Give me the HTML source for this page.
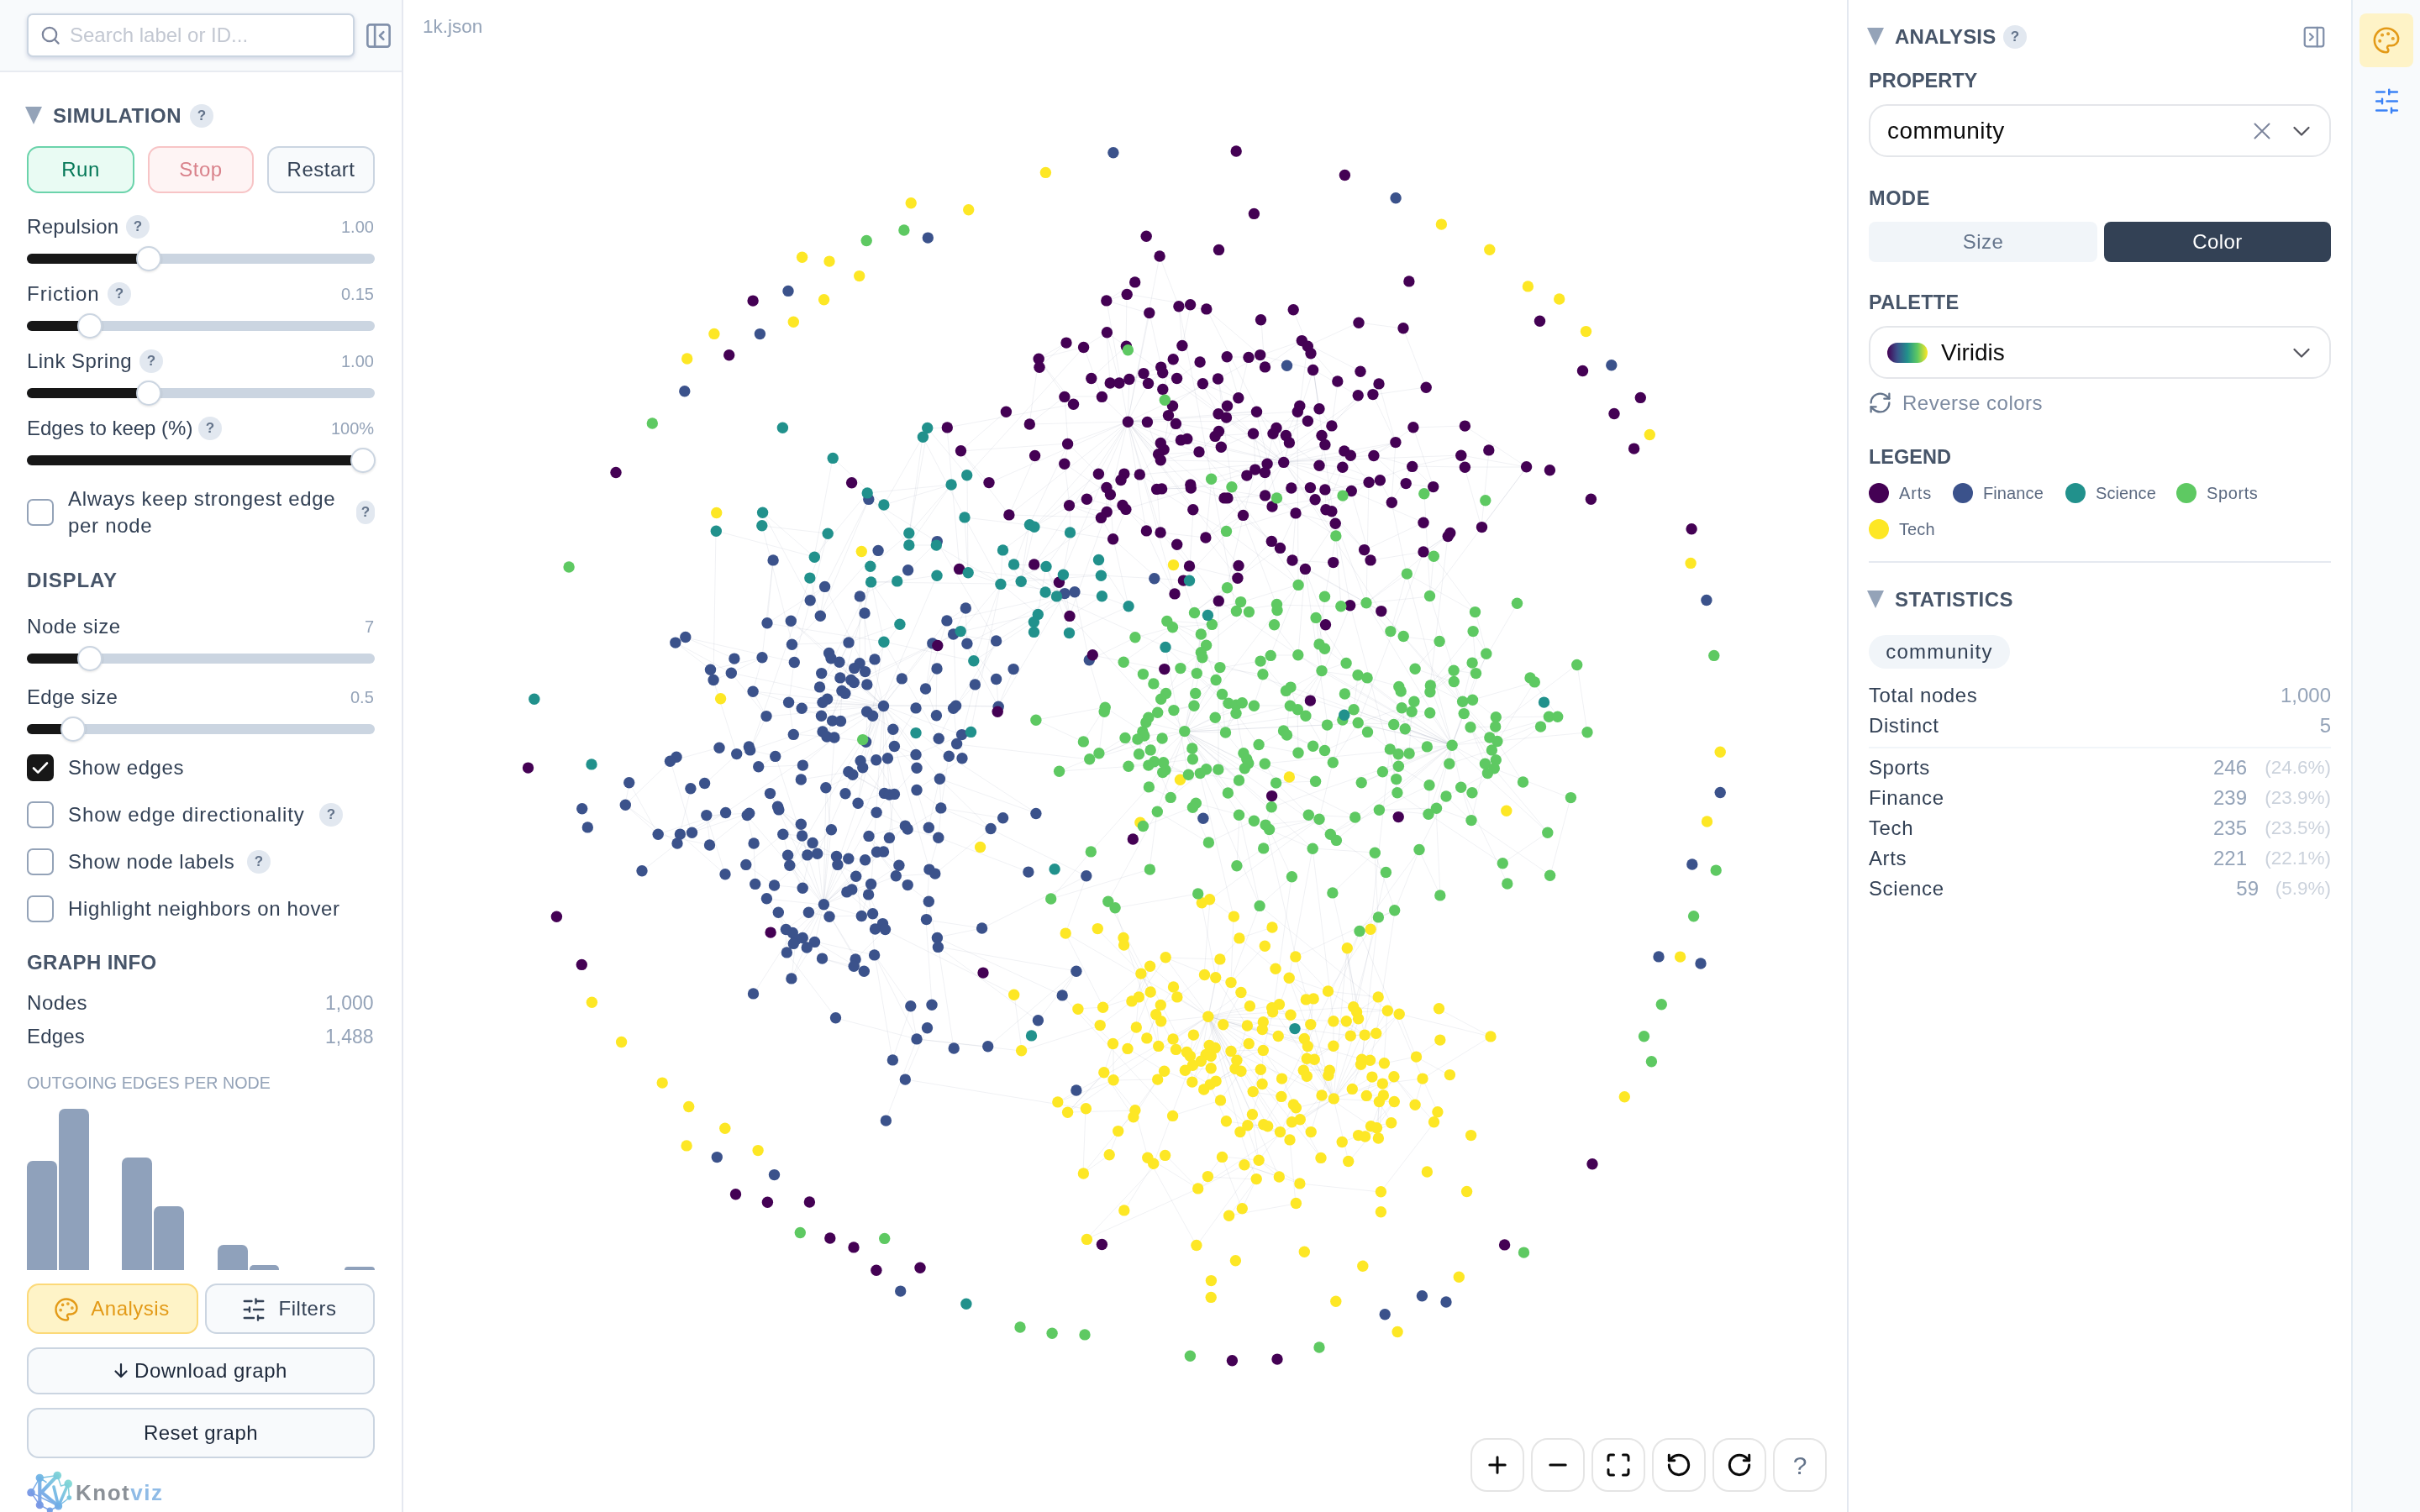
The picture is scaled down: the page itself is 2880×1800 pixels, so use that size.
<!DOCTYPE html>
<html><head><meta charset="utf-8"><title>Knotviz</title><style>
*{box-sizing:border-box;margin:0;padding:0}
html,body{width:2880px;height:1800px;overflow:hidden;background:#fff;font-family:"Liberation Sans",sans-serif}
.abs{position:absolute}
.t{white-space:nowrap}
#left,#right,#strip,.tb,.t,.l,.h,.v,.q,.btn,.lg,.seg{will-change:transform}
#left{position:absolute;left:0;top:0;width:480px;height:1800px;background:#fff;border-right:2px solid #e5e8f0}
.lhead{position:absolute;left:0;top:0;width:478px;height:86px;background:#f8fafc;border-bottom:2px solid #e8ebf1}
.search{position:absolute;left:32px;top:16px;width:390px;height:52px;background:#fff;border:2px solid #cbd5e1;border-radius:7px;box-shadow:0 2px 5px rgba(100,116,160,.28)}
.h{font-weight:700;font-size:24px;line-height:30px;color:#475569;white-space:nowrap}
.l{font-size:24px;line-height:30px;color:#334155;white-space:nowrap;letter-spacing:.15px}
.v{right:33px;font-size:20px;line-height:24px;color:#94a3b8;white-space:nowrap}
#right .rv,#right .rc,#right .rp{font-size:24px;line-height:30px;white-space:nowrap}
.rv{right:106px;color:#94a3b8}
.rc{right:206px;color:#94a3b8}
.rp{right:106px;color:#cbd2dc;font-size:22.5px!important}
.q{position:absolute;width:28px;height:28px;border-radius:14px;background:#e2e8f0;color:#64748b;font-weight:700;font-size:17px;line-height:27px;text-align:center}
.tri{position:absolute;width:0;height:0;border-left:10.5px solid transparent;border-right:10.5px solid transparent;border-top:21px solid #94a3b8}
.btn{position:absolute;border:2px solid;border-radius:14px;font-size:24px;display:flex;align-items:center;justify-content:center;white-space:nowrap;letter-spacing:.5px}
.sl{position:absolute;left:32px;width:414px;height:12px;border-radius:6px;background:#cbd5e1}
.sl i{position:absolute;left:0;top:0;height:12px;border-radius:6px;background:#171717}
.sl b{position:absolute;top:-9px;width:30px;height:30px;border-radius:15px;background:#fff;border:2px solid #cbd5e1;box-shadow:0 1px 3px rgba(0,0,0,.12)}
.cb{position:absolute;left:32px;width:32px;height:32px;border-radius:7px;border:2px solid #94a3b8;background:#fff}
.cb.on{background:#171717;border-color:#171717}
.cb.on svg{position:absolute;left:-2px;top:-2px}
.bar{position:absolute;width:35.8px;background:#8fa1bb;border-radius:7px 7px 0 0}
#right{position:absolute;left:0;top:0;width:2880px;height:0}
#rp{position:absolute;left:2198px;top:0;width:602px;height:1800px;background:#fff;border-left:2px solid #e3e8f0;border-right:2px solid #e3ecf3}
#strip{position:absolute;left:2800px;top:0;width:80px;height:1800px;background:#f8fafc}
.sel{position:absolute;left:2224px;width:550px;height:63px;border:2px solid #e4e6ea;border-radius:22px;background:#fff}
.seg{height:48px;border-radius:8px;font-size:24px;line-height:48px;text-align:center;letter-spacing:.4px}
.dot{position:absolute;width:24px;height:24px;border-radius:12px}
.lg{font-size:20px;line-height:24px;color:#5b6980;white-space:nowrap;letter-spacing:.1px}
.tb{position:absolute;top:1712px;width:64px;height:64px;border:2px solid #e5e5e5;border-radius:20px;background:#fff}
#g{position:absolute;left:480px;top:0}
</style></head><body>
<div class="abs t" style="left:503px;top:18px;font-size:22.500px;line-height:28px;color:#94a3b8">1k.json</div>
<svg id="g" width="1720" height="1800" viewBox="480 0 1720 1800">
<path d="M1384 444L1528 550M1598 857L1586 908M1450 916L1436 916M1387 770L1414 922M1298 1014L1251 1070M1769 778L1752 789M1439 1244L1429 1263M1442 570L1577 529M846 797L849 810M1626 1304L1646 1304M1551 1274L1525 1305M1698 889L1654 892M891 889L877 898M1437 1401L1495 1404M1410 871L1481 915M932 993L955 995M1713 763L1684 796M1309 1221L1216 1251M1314 1277L1271 1324M893 893L923 900M1450 451L1474 474M1661 527L1656 598M1342 502L1365 502M1037 693L1071 743M996 1019L1030 1024M1535 840L1573 799M1709 962L1751 977M985 635L964 688M1728 887L1645 919M1537 581L1559 581M1160 815L1145 875M970 1121L942 1165M1465 1170L1477 1182M1626 718L1728 887M1440 1071L1468 1091M1034 1065L1050 1100M1405 796L1447 810M1191 695L1155 871M1041 1137L1062 1262M1438 1210L1476 1348M1494 559L1457 593M1148 616L1152 682M1536 818L1728 887M1384 444L1401 450M1607 721L1662 928M1753 752L1769 778M1387 1140L1355 1187M1780 905L1767 909M997 1029L1037 1052M1416 1257L1441 1272M1477 1275L1452 1310M1010 765L999 788M1578 607L1624 655M1889 872L1728 887M1767 909L1778 915M1728 887L1677 897M982 698L913 742M1127 739L1102 820M1019 1043L980 1077M1159 787L1188 841M1752 789L1702 824M1450 493L1495 490M967 1003L955 1057M1436 368L1500 423M1311 710L1343 722M1273 602L1317 609M1586 1063L1624 1232M1377 582L1417 577M1337 1116L1338 1125M1354 880L1261 918M993 878L955 911M1037 1052L1025 1090M1542 611L1589 623M983 938L989 988M925 960L955 995M1442 743L1429 777M1661 527L1607 542M1570 975L1440 1071M941 739L1051 840M980 1077L942 1165M1611 1199L1617 1213M1626 718L1644 728M1410 871L1616 861M1485 1340L1524 1348M1592 454L1585 507M1317 396L1340 412M1435 1255L1441 1272M1556 1245L1555 1260M1694 622L1624 655M1102 820L1114 852M1523 1196L1587 1308M1665 1207L1774 1234M1043 967L1077 983M1628 871L1577 893M997 1029L1014 1059M1354 880L1367 911M1391 495L1342 502M870 801L1051 840M1701 935L1641 964M964 688L976 733M1484 1221L1472 1262M877 898L839 933M1231 627L1193 655M1063 868L1043 905M1555 1260L1587 1245M1502 1226L1456 1220M1399 504L1427 538M1585 507L1577 529M1306 1106L1358 1159M1307 666L1343 722M1560 1220L1552 1237M1563 440L1528 550M1877 791L1889 872M1120 962L1194 974M1273 733L1378 848M1207 672L1257 710M1225 625L1215 692M1382 437L1332 456M1616 471L1585 507M1477 1275L1447 1287M1117 997L1224 1038M1116 1127L1281 1156M1528 550L1435 640M989 784L1000 807M1495 490L1342 502M1054 1334L1091 1237M1050 1100L1042 1106M1317 396L1332 456M1495 490L1519 593M1063 868L1064 888M1616 804L1611 845M1310 616L1201 613M947 1118L942 1165M1342 502L1231 627M1008 1062L1050 1100M1244 705L1257 710M1586 908L1570 975M1225 625L1207 672M1460 700L1477 717M1587 1308L1605 1383M1362 876L1339 878M1446 1247L1416 1257M1519 720L1471 727M1052 764L1117 879M1342 502L1484 566M1387 917L1428 921M1177 575L1342 502M1542 611L1538 667M1460 425L1486 425M1577 583L1589 623M1728 887L1590 1000M1660 1084L1640 1092M889 971L980 1077M1528 550L1590 638M1702 816L1741 835M987 777L1017 796M1179 987L1293 1043M893 893L877 898M1452 1310L1485 1340M1410 871L1475 970M979 836L1051 840M1135 843L1139 886M1780 854L1780 865M1071 743L1041 785M1528 550L1598 556M1446 519L1492 516M1544 845L1573 799M1638 1343L1605 1383M1356 565L1383 582M1667 823L1672 868M1452 795L1447 810M1694 657L1616 861M1721 948L1689 1012M1503 803L1530 822M1566 735L1570 767M1728 887L1709 962M1403 365L1442 570M1545 696L1520 726M1315 842L1233 857M1419 904L1385 908M1264 1185L1396 1328M1618 1109L1693 1284M1331 1347L1320 1375M1245 674L1235 731M1317 396L1321 456M1600 537L1598 556M1068 692L1115 685M1486 1242L1472 1262M1640 1187L1615 1205M1537 1044L1499 1078M1585 609L1624 655M1281 1156L1235 1215M1378 1285L1351 1322M1066 1043L980 1077M1342 1248L1386 1275M938 1018L955 1057M1674 683L1655 752M955 1116L960 1128M1559 581L1608 585M1645 1290L1638 1343M1342 502L1556 501M1442 570L1471 727M1058 997L1044 1014M1519 720L1596 722M1728 887L1620 932M1544 490L1585 507M945 788L939 836M1300 780L1386 797M1373 814L1388 825M932 993L888 1029M1600 826L1728 887M1519 510L1528 550M1193 655L1191 695M852 632L849 810M1381 634L1416 674M1566 735L1602 789M1317 396L1290 413M1739 542L1681 555M1505 909L1566 930M1555 1260L1555 1281M978 802L1000 807M941 739L987 777M1514 1200L1587 1308M1664 898L1677 897M1645 1290L1626 1304M1547 1333L1587 1308M1656 598L1674 683M1636 1015L1660 1084M1528 550L1661 527M1752 789L1741 835M1340 412L1384 444M1129 900L1120 962M1102 1095L1169 1105M999 788L1016 812M1235 731L1143 752M1702 710L1730 798M1523 1196L1514 1200M1519 593L1590 638M1564 1261L1587 1245M1506 982L1542 1139M1514 1200L1515 1205M1544 490L1573 518M1342 502L1474 673M1492 516L1505 563M1491 1300L1525 1305M979 871L1006 825M1473 688L1450 715M1681 555L1743 556M1274 634L1265 684M1290 413L1311 472M1231 627L1215 692M1091 940L1120 962M1186 763L1160 815M1082 635L1132 577M1581 1180L1640 1187M1145 875L1090 898M1450 715L1573 799M903 913L955 911M1531 875L1577 893M1756 729L1769 778M1665 1207L1685 1258M1013 810L1051 840M1664 912L1662 928M1633 1282L1609 1296M1051 840L1145 875M1505 909L1728 887M1017 796L1006 825M1080 987L1120 962M1268 1111L1313 1199M991 545L969 663M1503 1250L1502 1290M1854 853L1728 887M1544 845L1545 896M1627 807L1611 845M943 1111L947 1118M1701 935L1700 969M749 932L744 958M1342 502L1381 634M1556 412L1547 483M1770 921L1721 948M1014 1059L1050 1100M1551 1274L1582 1274M1311 710L1273 733M1646 1304L1640 1355M1152 682L1191 695M1149 724L1127 739M1431 783L1452 795M1542 611L1523 652M1271 1324L1351 1322M1726 635L1694 657M1351 1322L1366 1378M1573 799L1728 887M1702 710L1626 718M1135 843L1117 879M1352 1223L1342 1248M1616 804L1665 817M1401 1187L1438 1210M991 545L1052 601M1115 645L1186 763M1446 1247L1470 1272M907 783L846 797M896 823L939 836M1775 893L1780 905M1668 843L1616 861M1271 528L1143 537M798 906L823 991M1481 1387L1547 1409M1317 609L1273 733M1052 764L1027 914M1032 587L969 663M1680 847L1659 862M1613 973L1583 993M1659 862L1728 887M1644 728L1782 883M1325 1242L1314 1277M1528 550L1356 565M1577 710L1570 767M1780 865L1770 921M1562 1010L1636 1015M935 1107L970 1121M1417 577L1519 593M1438 1210L1621 1261M1044 1014L1066 1043M1515 1205L1503 1250M1034 995L1044 1014M1145 875L1139 886M1702 816L1728 887M1395 747L1351 759M1451 513L1528 550M1743 556L1817 556M1106 1035L1113 1040M1477 1182L1438 1210M1151 766L1186 809M1492 840L1535 840M1642 572L1577 583M1757 802L1728 887M1596 722L1626 718M1631 1106L1581 1180M1706 662L1702 710M1321 589L1325 642M1502 1290L1490 1327M1659 1282L1587 1308M1570 975L1590 1000M1314 1277L1351 1322M1438 1210L1271 1324M1416 1257L1419 1288M922 1054L955 1057M1015 922L1058 946M1148 616L1225 625M1377 966L1319 1073M1321 589L1334 572M947 1118L960 1128M1537 581L1506 590M1585 609L1626 718M1051 840L1110 766M1778 915L1752 944M1528 550L1644 728M1045 655L976 733M1514 1104L1475 1117M1495 490L1451 513M1438 1210L1524 1348M1554 852L1410 871M1342 502L1379 541M1441 1257L1429 1263M889 971L897 1004M1577 583L1608 585M1514 1200L1502 1226M1502 1290L1525 1305M1115 685L1031 883M1513 644L1473 688M1139 886L1297 904M816 759L804 765M993 878L980 1077M1245 674L1273 733M1428 921L1393 949M1389 739L1431 783M1052 601L1098 520M1380 305L1342 502M1645 1290L1587 1308M1629 574L1585 609M1030 800L1013 810M1423 825L1410 871M1051 840L1021 956M1439 1244L1419 1268M1269 408L1237 437M1528 550L1577 529M1656 1337L1632 1341M1454 826L1458 872M856 890L798 906M1459 632L1598 590M1377 966L1368 1035M1419 961L1438 1003M1512 780L1545 780M1617 1213L1587 1245M1431 457L1450 493M978 802L979 836M1641 964L1583 993M1695 588L1702 710M1565 595L1514 603M1273 602L1310 616M995 1212L1091 1237M1387 1140L1438 1210M1018 1142L1028 1156M1450 451L1459 497M1377 582L1417 581M1417 581L1457 593M1027 914L1052 944M1556 412L1617 384M985 635L945 788M1640 1092L1621 1261M1739 937L1794 1052M1492 516L1494 559M1528 550L1629 574M1245 674L1191 695M1279 705L1186 763M1387 1140L1447 1164M1051 840L1090 898M1661 527L1635 542M1477 1182L1523 1196M1354 880L1297 904M1369 1181L1313 1199M1429 755L1424 802M1399 504L1466 580M1233 857L1289 883M1752 789L1757 802M1082 649L1132 577M1684 796L1730 812M1351 1322L1331 1347M1615 1205L1651 1203M1633 1282L1645 1290M1127 739L1051 840M1539 1315L1524 1348M1689 1012L1618 1109M1428 431L1384 463M1590 638L1577 710M1010 919L953 928M1628 871L1654 892M1525 1305L1547 1333M1645 919L1662 928M1854 853L1782 883M1091 940L1105 985M985 832L1143 752M1369 1181L1352 1223M1501 381L1505 437M1730 812L1742 850M1436 368L1528 550M1002 822L1000 859M1342 502L1364 632M1019 1043L1025 1090M1051 1014L980 1077M864 967L809 993M967 1003L996 1019M970 1121L978 1141M1051 840L1138 840M1274 634L1325 642M1129 900L1233 968M1438 1210L1429 1263M1056 903L980 1077M926 1086L943 1111M1641 1312L1640 1355M1369 1181L1347 1192M1064 888L1091 914M1310 616L1231 672M1391 495L1385 535M943 1111L897 1183M1438 1210L1498 1381M1534 1164L1563 1189M1447 810L1421 840M1191 695L1311 710M1577 529L1570 554M1410 871L1499 1078M1603 1129L1587 1308M1505 1126L1465 1170M1386 1275L1419 1288M1410 871L1362 876M1723 638L1694 657M943 767L1010 765M1378 848L1410 871M1367 911L1261 918M1446 1247L1441 1272M1607 1233L1638 1230M1730 812L1741 835M1581 1180L1611 1199M1481 1387L1522 1401M1341 350L1340 412M1278 481L1127 509M1145 875L1145 903M1598 556L1578 607M1447 1164L1484 1221M1511 988L1537 1044M1438 1210L1556 1245M897 1004L899 1052M1685 1258L1725 1280M973 1016L996 1019M1452 795L1410 871M1064 888L1090 898M1475 1117L1452 1142M1044 1014L1019 1043M1186 763L1138 840M1135 755L1186 763M943 1111L970 1121M1283 1201L1313 1199M1034 594L982 698M1056 903L1064 945M1387 1375L1293 1475M1051 840L1188 841M841 971L845 1006M1535 840L1410 871M1607 721L1554 852M1389 739L1442 743M1477 1275L1500 1273M1431 783L1424 802M1538 667L1626 718M1528 550L1340 606M1343 722L1273 754M1082 635L1104 510M1553 677L1644 728M1116 1127L1235 1215M1342 502L1260 693M1143 537L1201 613M989 784L999 788M1504 1010L1472 1031M1475 929L1461 944M1670 758L1713 763M1341 350L1317 358M982 698L1051 840M1091 1237L1216 1251M1573 799L1627 807M984 877L993 878M1414 922L1377 966M1395 747L1337 788M975 818L1006 825M1387 770L1536 818M1023 790L1013 810M1232 542L1201 613M1381 1196L1365 1236M961 1018L922 1054M1539 369L1560 421M1051 840L1106 1035M1542 1433L1463 1447M1385 908L1367 937M1500 423L1450 451M1450 451L1466 580M1271 528L1267 552M1471 849L1480 897M1317 609L1340 606M1559 581L1506 590M1381 548L1427 538M1366 1378L1424 1483M935 1107L936 1134M889 971L845 1006M1697 461L1634 470M1767 909L1751 977M1115 796L1102 820M1728 887L1700 969M1365 502L1379 541M1081 679L1115 645M822 939L809 993M927 964L967 1003M1340 606L1401 648M1034 1065L1041 1137M1523 652L1473 688M1460 700L1421 729M1410 871L1461 944M1269 408L1236 427M1410 871L1583 993M1420 1232L1400 1249M1051 840L940 1030M1021 956L980 1077M1378 1285L1349 1330M1052 944L1064 945M1376 1208L1379 1245M1403 365L1407 412M1410 871L1492 977M1018 1142L1016 1150M1066 1043L1113 1040M1405 524L1381 527M1021 956L1043 967M1436 768L1429 777M1728 887L1701 935M1438 1210L1572 1378M1376 1208L1382 1216M1311 472L1332 456M1043 905L1006 945M1225 625L1274 634M1397 1175L1401 1187M1480 897L1486 909M1257 710L1230 740M1477 1182L1487 1198M1193 655L1215 692M1064 945L1058 997M1358 1159L1369 1181M1477 717L1421 729M1728 887L1613 973M1528 550L1585 609M1037 693L1191 695M1500 423L1563 440M1290 413L1151 566M1293 1043L1268 1111M1307 564L1231 627M1780 854L1854 853M1477 1182L1456 1220M1465 1251L1587 1308M1728 887L1767 909M1037 693L984 877M1636 1015L1640 1092M864 967L783 993M967 1003L973 1016M1000 807L1006 825M920 667L913 742M1498 1381L1522 1401M1030 1024L980 1077M926 1086L935 1107M1052 764L1159 787M1565 595L1542 611M1753 752L1702 816M1235 731L1230 752M912 853L893 893M1721 948L1751 977M1368 373L1382 437M1319 1073L1419 1268M962 1086L935 1107M1534 1164L1554 1190M1519 932L1566 930M1307 564L1342 502M989 988L980 1077M1279 705L1127 739M1405 796L1388 825M1382 437L1528 550M1293 1043L1169 1105M1607 1233L1624 1232M1517 744L1545 780M1714 1238L1685 1258M939 836L1051 840M1519 932L1557 970M1554 852L1580 863M1730 798L1702 816M1553 677L1580 863M1438 1210L1446 1247M1587 1308L1426 1415M1600 826L1611 845M1664 912L1620 932M1641 964L1700 969M1563 1189L1552 1237M1032 815L1006 825M1525 1305L1504 1339M852 632L969 663M1381 527L1381 548M943 1111L944 1123M1683 835L1659 862M989 784L1051 840M964 688L893 893M1360 803L1388 825M1549 406L1619 442M1387 1140L1452 1142M980 1077L936 1134M1673 576L1706 580M1435 1255L1441 1257M749 932L783 993M1486 425L1505 437M1023 710L1051 840M1438 1210L1552 1237M1245 674L1273 754M1420 607L1416 674M1279 705L1296 786M907 626L985 635M1017 796L1013 810M1051 840L912 853M907 783L870 801M1438 1210L1632 1341M1382 832L1364 860M982 698L964 715M1481 1387L1426 1415M1680 847L1672 868M1659 862L1698 889M1440 1291L1459 1335M1191 695L1159 787M920 667L907 783M1080 1054L1105 1073M1325 1242L1325 1286M1682 509L1706 580M1833 865L1780 905M1149 724L1135 755M1058 946L1043 967M823 991L806 1004M1707 1336L1643 1419M1034 995L1051 1014M1106 1035L1102 1095M1680 847L1677 897M1542 1139L1587 1308M1659 862L1664 912M1450 916L1414 922M1401 1187L1381 1196M1410 1274L1441 1272M1325 642L1343 722M980 1077L1018 1142M1485 1340L1504 1339M1537 1044L1515 1205M1382 832L1378 848M1186 809L1188 841M1419 891L1385 908M1513 961L1506 982M1290 413L1236 427M1315 842L1360 871M940 1030L955 1057M1314 1277L1349 1330M1654 892L1631 1106M1549 406L1500 423M1396 428L1367 456M1064 888L1090 843M975 818L979 836M1417 363L1407 412M1438 1210L1602 1216M1082 635L1036 674M1466 580L1519 720M1773 878L1780 905M1008 1062L980 1077M1498 1381L1424 1483M1381 548L1528 550M908 610L964 715M1410 871L1562 1010M1538 667L1587 670M1515 516L1508 552M1556 412L1592 454M1342 502L1381 548M1515 1205L1536 1208M1466 580L1641 457M1317 580L1340 606M1542 1139L1581 1180M744 958L806 1004M1778 915L1842 991M1530 822L1535 840M1352 1223L1325 1242M1037 693L1068 692M1053 1107L1207 1184M1843 853L1854 853M1342 502L1377 582M1668 843L1702 849M1470 1272L1447 1287M1471 849L1498 887M1769 778L1728 887M1420 1232L1416 1257M1624 1232L1620 1267M1582 1274L1573 1304M1453 532L1528 550M912 1070L980 1077M1197 490L1143 537M1528 550L1508 552M1495 1404L1478 1439M804 765L870 801M1438 1210L1490 1327M1728 887L1739 937M1385 535L1356 565M1649 1038L1607 1233M1077 1285L1292 1320M1523 652L1538 667M1051 840L1129 900M1381 1196L1376 1208M1317 580L1317 609M1477 717L1471 727M1317 358L1368 373M1148 616L1191 695M1481 915L1505 909M1494 559L1480 613M1430 1075L1447 1164M1750 866L1780 865M954 843L1051 840M1064 945L1091 914M1460 700L1429 755M1410 871L1297 904M1681 555L1656 598M1641 964L1709 962M1674 683L1626 718M1512 780L1492 840M1143 537L1177 575M1051 1014L1030 1024M1037 1052L1008 1062M1542 1319L1560 1348M1528 550L1635 542M864 967L823 991M970 1121L1041 1137M1638 1343L1640 1355M1379 541L1427 538M1750 866L1780 905M1544 490L1515 516M1424 802L1388 825M892 968L823 991M1138 840L1188 841M1869 950L1845 1042M1423 825L1421 840M1051 840L1027 914M1381 634L1435 640M1474 474L1451 513M1281 1156L1264 1185M1562 1010L1534 1164M1143 752L1159 787M1438 1210L1521 1234M1681 555L1629 574M1369 1150L1347 1192M1317 358L1342 502M1555 1281L1573 1304M1547 1409L1643 1419M1051 840L983 938M1617 384L1670 391M1564 1261L1587 1308M1118 927L1120 962M1098 520L1148 616M1283 1201L1325 1242M1481 915L1436 916M1665 817L1683 835M1377 966L1438 1003M1587 1308L1659 1312M1633 1282L1626 1304M983 938L980 1077M1659 1312L1632 1341M1753 752L1757 802M1268 1111L1438 1210M1583 993L1649 1038M1351 759L1296 786M1118 927L1179 987M970 1121L1028 1156M1410 871L1458 872M1534 527L1570 554M1651 1203L1587 1308M1487 1198L1438 1210M1538 667L1553 677M1387 770L1471 849M1503 1250L1472 1262M1560 421L1570 487M1523 1196L1438 1210M1351 336L1317 358M1082 635L1098 520M1635 542L1681 555M1114 649L1191 695M1544 490L1545 696M1395 483L1413 522M1474 673L1450 715M1435 640L1473 688M1534 1164L1523 1196M1511 988L1562 1010M1438 1210L1396 1237M1325 1286L1259 1312M1364 860L1369 893M1702 824L1683 835M1563 1189L1560 1220M1670 391L1697 461M1560 1348L1573 1304M1017 796L1032 815M1051 840L1032 847M1577 772L1728 887M1484 904L1475 929M993 878L1031 883M1627 807L1600 826M1271 528L1307 564M1267 472L1271 528M1640 1092L1611 1199M1267 552L1321 589M982 698L976 733M1537 1336L1587 1308M1382 1216L1400 1249M1702 849L1728 887M1457 593L1514 603M978 1141L1028 1156M1563 440L1590 638M1475 1117L1518 1153M1310 616L1325 642M1367 937L1393 949M1071 743L1010 765M1555 1260L1581 1280M980 1077L1028 1156M870 801L849 810M1379 1245L1412 1252M1347 1192L1309 1221M1492 977L1438 1003M1659 1282L1641 1312M1052 944L1021 956M1120 962L1179 987M1447 1164L1438 1210M1029 730L999 788M1382 437L1395 483M1753 833L1780 854M804 765L846 797M1396 428L1384 463M961 1018L973 1016M1351 1322L1289 1397M1631 1262L1587 1308M979 836L991 858M1780 854L1782 883M1817 556L1763 628M1842 991L1788 1028M1342 502L1317 609M1077 983L1034 995M1315 842L1314 847M1530 822L1728 887M1377 582L1381 634M1506 982L1511 988M1739 542L1817 556M1244 705L1387 770M1051 840L1037 1052M1360 871L1355 898M1403 365L1436 368M1441 1272L1433 1297M1452 1310L1396 1328M1600 537L1629 574M1070 1030L1037 1052M977 852L1000 859M1383 879L1374 907M1528 550L1607 542M1498 1381L1547 1409M1646 1304L1632 1341M1659 1282L1684 1315M1410 871L1367 911M1616 861L1728 887M932 993L938 1018M1504 1010L1570 975M1373 814L1410 871M1102 1095L1109 1196M1525 1305L1618 1109M1010 1022L997 1029M1027 914L1021 956M1215 692L1244 705M1728 887L1663 944M1433 1161L1465 1170M1281 1156L1176 1246M1369 1150L1355 1187M1428 921L1475 929M1342 1248L1271 1324M1339 878L1308 897M1486 1242L1465 1251M1358 1159L1355 1187M1337 1116L1369 1181M1577 583L1578 607M1624 1232L1638 1230M1641 457L1661 527M954 843L977 852M1419 961L1360 984M816 759L945 788M944 874L993 878M1730 798L1702 824M1664 912L1701 935M923 900L903 913M888 1029L922 1054M1438 1210L1259 1312M1051 840L1118 927M1320 1375L1289 1397M917 945L980 1077M1310 685L1416 691M1015 922L983 938M1194 974L1113 1040M1051 840L864 967M1426 1415L1293 1475M1118 927L1105 985M1528 550L1739 542M1475 970L1499 1078M1580 863L1577 893M1556 501L1515 516M1654 892L1663 944M1665 1207L1587 1308M1041 1137L1084 1198M1037 693L975 818M1368 373L1342 502M1598 556L1642 572M1267 707L1188 841M849 810L877 898M1682 509L1635 542M1225 505L1342 502M1473 688L1421 729M1459 1335L1509 1341M1539 1315L1537 1336M1438 1210L1526 1284M1468 1091L1465 1170M1396 428L1528 550M1634 470L1661 527M913 742L1052 764M1032 847L1063 868M1723 638L1702 816M1499 1078L1651 1203M1500 1273L1491 1300M1118 927L1233 968M1077 1285L1103 1224M1651 1203L1647 1266M1460 425L1474 474M1431 457L1395 483M999 788L975 818M1536 818L1531 875M1544 490L1342 502M978 1141L1016 1150M1534 1164L1587 1308M1084 1198L1091 1237M1709 962L1714 1066M973 1016L980 1077M1742 850L1782 883M1447 810L1423 825M1236 427L1267 472M1135 755L1138 840M1782 883L1812 931M1421 840L1378 848M1367 911L1384 920M1424 802L1462 837M1459 632L1545 696M1043 967L980 1077M1553 677L1578 744M989 784L1017 796M1603 1129L1611 1199M1549 406L1505 437M1665 1207L1638 1230M841 971L863 1041M1685 1258L1647 1266M1617 1352L1625 1353M1689 1012L1714 1066M1024 906L1043 905M987 1091L1025 1090M1503 1250L1526 1284M1438 1210L1607 1233M1151 566L1152 682M1051 840L991 858M896 823L912 853M1553 677L1589 623M1064 888L1056 903M1115 796L1114 852M1342 502L1420 607M1739 937L1751 977M1495 490L1519 510M1052 944L1077 983M912 1070L935 1107M1534 1164L1581 1180M1553 677L1545 780M980 1077L943 1111M1503 1217L1484 1221M1521 1234L1552 1237M955 995L940 1030M1826 812L1782 883M1674 683L1728 887M1267 707L1151 766M1557 970L1590 1000M1077 983L1051 1014M1726 635L1723 638M1877 791L1780 865M1207 1184L1216 1251M1440 1071L1433 1161M1475 970L1492 977M1077 983L980 1077M1293 594L1273 602M1374 907L1414 922M1528 870L1498 887M1352 1223L1379 1245M1587 1216L1624 1232M1480 613L1408 691M1826 812L1753 833M1470 1272L1440 1291M1620 1267L1647 1266M1582 1274L1587 1308M1115 1116L1264 1185M1774 1234L1693 1284M1528 550L1494 559M1319 1073L1327 1081M1693 1284L1684 1315M1495 1404L1463 1447M1366 1378L1426 1415M1617 1352L1597 1360M1821 807L1854 853M980 1077L962 1086M1127 509L1142 677M1342 502L1201 613M1542 1139L1660 1084M1367 456L1342 502M1142 677L1260 693M1043 905L1064 945M1554 852L1586 908M1616 861L1586 908M1340 412L1299 450M1364 860L1410 871M1339 878L1355 898M1480 613L1435 640M1385 908L1367 911M1477 717L1486 728M1401 648L1450 715M1484 1221L1521 1234M1051 840L973 1016M1547 1333L1572 1378M816 759L874 784M1617 1213L1587 1216M985 832L977 852M1325 642L1340 606M1041 785L1013 810M1373 1385L1387 1375M1709 962L1700 969M1454 1377L1426 1415M1051 840L1066 1043M1750 866L1767 909M1115 1116L1169 1105M1296 786L1314 847M1659 1282L1707 1336M1410 871L1387 917M932 993L973 1016M1084 1198L1062 1262M1273 602L1274 634M1080 987L1117 997M938 1018L980 1077M1499 1078L1429 1263M1405 524L1528 550M923 900L980 1077M1446 854L1458 872M1191 695L1235 731M1408 691L1447 810M1433 1161L1401 1187M1378 1285L1325 1286M1513 961L1728 887M1340 606L1364 632M1570 487L1585 507M1389 739L1436 768M1143 752L1016 812M1626 718L1655 752M1230 740L1159 787M1019 1043L1008 1062M1471 839L1458 872M1410 871L1486 909M1659 1312L1638 1343M892 968L889 971M1494 559L1484 566M1104 510L1151 566M996 1019L980 1077M1031 883L1043 905M1454 1377L1478 1439M1342 502L1513 644M1611 845L1728 887M1367 911L1387 917M1053 1107L1018 1142M1564 1261L1582 1274M1498 887L1545 896M1271 528L1342 502M1160 815L1138 840M1438 1210L1522 1401M1341 350L1417 363M1342 502L1398 707M1337 788L1388 825M1384 444L1367 456M1338 564L1231 627M1570 767L1573 799M1536 818L1544 845M1410 1274L1440 1291M1110 766L1102 820M1526 1284L1542 1319M1621 1261L1647 1266M896 823L1051 840M1636 1015L1586 1063M1454 1377L1498 1381M1344 451L1384 463M1556 1245L1555 1281M1023 710L1023 790M1663 944L1700 969M1367 937L1298 1014M1632 1341L1617 1352M1073 808L1032 847M1654 892L1664 912M1438 1210L1416 1257M1553 677L1512 780M1310 685L1215 692M999 788L1002 822M1544 845L1554 852M1051 840L893 893M1091 1237L1176 1246M1321 589L1336 601M1344 451L1342 502M1539 1315L1542 1319M1524 1348L1498 1381M1385 908L1414 922M1442 570L1435 640M1602 789L1573 799M1602 1216L1624 1232M1410 871L1580 863M1115 796L1090 843M1423 956L1475 970M1603 1129L1617 1213M1206 797L1188 841M1120 962L1117 997M1702 849L1659 862M908 610L969 663M1641 1312L1656 1337M1127 509L1104 510M1374 907L1393 949M1362 876L1374 907M1689 1012L1660 1084M1032 847L1031 883M1547 483L1570 487M944 1123L970 1121M1486 909L1461 944M1778 915L1869 950M1542 1319L1587 1308M1105 1073L1116 1127M1387 1375L1426 1415M987 777L1051 840M1338 564L1356 565M1751 977L1845 1042M1552 1237L1587 1308M1149 724L1151 766M1640 1187L1587 1308M798 906L744 958M1429 755L1410 871M1377 582L1459 632M1471 727L1429 755M1528 550L1694 622M1367 854L1354 880M1486 728L1436 768M1410 871L1513 961M1051 840L1006 825M976 733L943 767M1438 1210L1611 1199M1358 1159L1313 1199M1342 502L1417 581M1441 1257L1419 1288M1267 472L1311 472M1638 1230L1631 1262M1706 662L1756 729M1032 587L1082 649M1407 412L1384 444M1023 790L1016 812M1452 1142L1438 1210M1029 730L1030 800M1563 440L1616 471M1383 582L1417 581M1450 451L1342 502M980 1077L1025 1090M1559 581L1578 607M907 626L943 767M955 995L961 1018M1450 715L1450 916M1446 854L1410 871M806 1004L764 1037M744 958L783 993M1382 1216L1438 1210M1410 871L1475 929M1465 1251L1503 1250M1389 739L1429 755M1374 907L1343 912M1265 684L1273 733M1480 613L1513 644M1410 871L1613 973M1380 305L1403 365M1743 507L1817 556M1271 528L1225 625M1616 861L1659 862M1478 837L1458 872M1369 1150L1438 1210M1674 683L1756 729M1712 1201L1774 1234M1590 638L1596 722M1600 537L1577 583M1052 601L1132 577M1621 1261L1609 1296M1039 1088L1053 1107M1145 903L1091 940M1486 425L1474 474M1587 1216L1587 1245M1772 536L1763 628M1458 872L1484 904M962 1086L987 1091M1505 563L1484 566M1728 887L1725 909M1460 483L1459 497M927 964L953 981M1556 501L1530 518M1739 542L1763 628M1598 857L1728 887M1519 593L1542 611M1459 497L1492 516M1506 982L1570 975M1235 731L1230 740M1438 1210L1509 1341M1342 502L1413 522M1629 574L1626 718M1566 735L1577 772M1384 444L1344 451M1730 798L1757 802M1267 552L1273 602M1681 555L1706 580M1361 445L1367 456M1562 1010L1587 1216M1621 1261L1620 1267M1041 785L1023 790M1364 632L1398 707M1051 840L1052 944M1355 1187L1352 1223M1556 1245L1551 1274M1611 845L1580 863M991 858L984 877M1327 1081L1379 1245M1292 1320L1289 1397M1431 457L1474 474M1010 919L1052 944M1664 898L1664 912M1399 504L1413 522M1559 581L1577 583M1742 850L1728 887M1438 1210L1535 1357M1034 594L976 733M1236 427L1278 481M1492 516L1453 532M989 988L961 1018M1274 634L1245 674M1421 840L1397 846M1395 747L1442 743M1438 1210L1470 1272M1293 594L1340 606M1631 667L1694 657M1354 880L1369 893M1523 1196L1503 1217M1530 822L1573 799M1520 726L1517 744M1528 550L1641 457M1498 887L1484 904M1368 1035L1251 1070M1618 1109L1631 1106M1505 909L1519 932M1410 871L1419 891M1115 1116L1135 1248M1081 679L1023 710M1017 796L1002 822M1037 693L1052 764M1775 893L1725 909M1547 1333L1573 1304M1620 1267L1587 1308M1589 623L1607 721M1039 852L1031 883M939 836L944 874M1314 847L1308 897M1782 883L1770 921M1656 1337L1625 1353M1806 718L1757 802M917 945L925 960M1632 1341L1640 1355M1547 483L1530 518M1535 1357L1542 1433M980 1077L955 1116M1817 556L1702 710M1438 1210L1581 1280M1534 527L1528 550M1399 504L1379 541M1041 1137L1091 1237M1051 840L923 900M1342 502L1231 672M1438 1210L1373 1385M1191 695L1143 752M1436 768L1410 871M1236 427L1225 505M1207 672L1267 707M1682 509L1743 507M1082 649L1114 649M1465 1251L1441 1272M809 993L863 1041M1528 870L1563 888M1492 840L1446 854M1564 1261L1618 1109M1642 572L1656 598M1611 1199L1651 1203M1635 542L1673 576M1384 920L1367 937M1429 1263L1419 1288M1315 842L1289 883M841 971L892 968M1032 587L1132 577M1475 970L1472 1031M1608 585L1631 667M1545 780L1728 887M1693 1284L1711 1324M1036 674L1029 730M1723 638L1626 718M980 1077L987 1091M1616 804L1668 843M1373 1385L1338 1441M1399 504L1451 513M907 783L896 823M1044 1014L1070 1030M870 801L912 853M1327 1081L1426 1064M1413 522L1453 532M1520 726L1410 871M1506 590L1461 593M927 964L955 995M1700 969L1788 1028M1660 1084L1638 1230M1429 777L1405 796M1207 672L1245 674M936 1134L995 1212M1554 1190L1563 1189M1617 1213L1587 1308M1528 550L1506 590M1416 674L1473 688M1325 642L1398 707M980 1077L970 1121M1260 693L1273 733M1500 787L1530 822M1728 887L1842 991M1396 1237L1412 1252M1504 1339L1535 1357M1509 1341L1524 1348M1440 1291L1433 1297M1478 837L1410 871M1376 1208L1365 1236M1311 472L1342 502M1428 921L1468 1091M1400 1249L1419 1268M1397 1175L1376 1208M1693 1284L1645 1290M1410 871L1377 966M1034 594L1115 645M805 901L798 906M1476 1348L1495 1404M1490 1327L1498 1381M1480 613L1460 700M1117 997L1106 1035M1466 580L1545 696M1043 905L1090 898M1267 472L1225 505M1044 1014L1080 1054M1077 983L1080 987M1750 866L1778 915M1644 728L1773 878M1265 684L1310 685M783 993L845 1006M1563 440L1570 487M1452 795L1503 803M1511 988L1570 975M1500 787L1452 795M1505 563L1506 590M1557 970L1613 973M1446 519L1427 538M1545 696L1477 717M1429 777L1424 802" stroke="#75819d" stroke-opacity=".11" stroke-width="1" fill="none"/>
<g fill="#fde725"><circle cx="1084.2" cy="241.7" r="6.7"/><circle cx="954.6" cy="306.2" r="6.7"/><circle cx="987.0" cy="311.1" r="6.7"/><circle cx="1022.7" cy="328.6" r="6.7"/><circle cx="980.6" cy="356.7" r="6.7"/><circle cx="944.3" cy="383.3" r="6.7"/><circle cx="849.9" cy="397.4" r="6.7"/><circle cx="817.7" cy="427.0" r="6.7"/><circle cx="1244.4" cy="205.4" r="6.7"/><circle cx="1152.7" cy="249.8" r="6.7"/><circle cx="1715.4" cy="267.1" r="6.7"/><circle cx="1772.8" cy="297.2" r="6.7"/><circle cx="1818.4" cy="340.9" r="6.7"/><circle cx="1855.7" cy="356.0" r="6.7"/><circle cx="1887.5" cy="394.6" r="6.7"/><circle cx="852.7" cy="610.5" r="6.7"/><circle cx="1025.3" cy="656.5" r="6.7"/><circle cx="1396.5" cy="672.6" r="6.7"/><circle cx="1963.3" cy="517.5" r="6.7"/><circle cx="2012.1" cy="670.4" r="6.7"/><circle cx="857.6" cy="831.7" r="6.7"/><circle cx="1404.5" cy="928.2" r="6.7"/><circle cx="1534.4" cy="925.0" r="6.7"/><circle cx="1356.9" cy="979.2" r="6.7"/><circle cx="1166.6" cy="1008.5" r="6.7"/><circle cx="2047.2" cy="895.2" r="6.7"/><circle cx="1792.8" cy="965.3" r="6.7"/><circle cx="2031.5" cy="978.0" r="6.7"/><circle cx="704.4" cy="1193.3" r="6.7"/><circle cx="739.6" cy="1240.5" r="6.7"/><circle cx="788.2" cy="1289.1" r="6.7"/><circle cx="819.7" cy="1317.5" r="6.7"/><circle cx="862.8" cy="1343.3" r="6.7"/><circle cx="1430.3" cy="1074.8" r="6.7"/><circle cx="1439.6" cy="1070.8" r="6.7"/><circle cx="1468.4" cy="1091.1" r="6.7"/><circle cx="1514.0" cy="1104.0" r="6.7"/><circle cx="1268.2" cy="1111.1" r="6.7"/><circle cx="1306.3" cy="1105.6" r="6.7"/><circle cx="1337.0" cy="1116.5" r="6.7"/><circle cx="1337.6" cy="1125.0" r="6.7"/><circle cx="1474.9" cy="1116.9" r="6.7"/><circle cx="1505.3" cy="1126.2" r="6.7"/><circle cx="1387.2" cy="1139.7" r="6.7"/><circle cx="1451.9" cy="1141.9" r="6.7"/><circle cx="1541.8" cy="1138.9" r="6.7"/><circle cx="1368.6" cy="1150.2" r="6.7"/><circle cx="1357.9" cy="1159.1" r="6.7"/><circle cx="1518.0" cy="1153.2" r="6.7"/><circle cx="1433.5" cy="1160.5" r="6.7"/><circle cx="1446.7" cy="1163.7" r="6.7"/><circle cx="1534.2" cy="1164.3" r="6.7"/><circle cx="1465.0" cy="1169.6" r="6.7"/><circle cx="1396.5" cy="1175.0" r="6.7"/><circle cx="1400.9" cy="1186.9" r="6.7"/><circle cx="1369.2" cy="1181.0" r="6.7"/><circle cx="1476.9" cy="1181.5" r="6.7"/><circle cx="1206.7" cy="1184.3" r="6.7"/><circle cx="1355.3" cy="1186.9" r="6.7"/><circle cx="1346.9" cy="1191.9" r="6.7"/><circle cx="1554.3" cy="1189.9" r="6.7"/><circle cx="1563.2" cy="1188.9" r="6.7"/><circle cx="1381.3" cy="1196.4" r="6.7"/><circle cx="1487.4" cy="1197.8" r="6.7"/><circle cx="1522.5" cy="1195.8" r="6.7"/><circle cx="1513.6" cy="1199.8" r="6.7"/><circle cx="1514.6" cy="1204.8" r="6.7"/><circle cx="1282.9" cy="1201.2" r="6.7"/><circle cx="1312.6" cy="1199.2" r="6.7"/><circle cx="1375.7" cy="1207.7" r="6.7"/><circle cx="1381.7" cy="1215.7" r="6.7"/><circle cx="1437.8" cy="1210.3" r="6.7"/><circle cx="1536.0" cy="1208.3" r="6.7"/><circle cx="1503.3" cy="1216.7" r="6.7"/><circle cx="1502.3" cy="1225.6" r="6.7"/><circle cx="1455.7" cy="1219.8" r="6.7"/><circle cx="1484.4" cy="1221.0" r="6.7"/><circle cx="1559.8" cy="1219.6" r="6.7"/><circle cx="1309.2" cy="1220.6" r="6.7"/><circle cx="1352.3" cy="1223.0" r="6.7"/><circle cx="1420.4" cy="1232.1" r="6.7"/><circle cx="1521.2" cy="1233.5" r="6.7"/><circle cx="1552.3" cy="1236.5" r="6.7"/><circle cx="1364.8" cy="1235.9" r="6.7"/><circle cx="1396.0" cy="1236.9" r="6.7"/><circle cx="1324.5" cy="1242.5" r="6.7"/><circle cx="1378.7" cy="1245.4" r="6.7"/><circle cx="1486.2" cy="1242.5" r="6.7"/><circle cx="1439.2" cy="1244.4" r="6.7"/><circle cx="1446.2" cy="1247.4" r="6.7"/><circle cx="1556.3" cy="1245.4" r="6.7"/><circle cx="1342.0" cy="1248.4" r="6.7"/><circle cx="1215.6" cy="1250.8" r="6.7"/><circle cx="1399.5" cy="1249.4" r="6.7"/><circle cx="1412.4" cy="1252.4" r="6.7"/><circle cx="1416.4" cy="1257.3" r="6.7"/><circle cx="1465.0" cy="1251.4" r="6.7"/><circle cx="1503.3" cy="1250.4" r="6.7"/><circle cx="1435.2" cy="1255.4" r="6.7"/><circle cx="1441.2" cy="1257.3" r="6.7"/><circle cx="1429.3" cy="1263.3" r="6.7"/><circle cx="1471.9" cy="1262.3" r="6.7"/><circle cx="1555.3" cy="1260.3" r="6.7"/><circle cx="1564.2" cy="1261.3" r="6.7"/><circle cx="1419.4" cy="1268.3" r="6.7"/><circle cx="1410.4" cy="1274.2" r="6.7"/><circle cx="1441.2" cy="1271.8" r="6.7"/><circle cx="1470.0" cy="1272.2" r="6.7"/><circle cx="1476.9" cy="1275.2" r="6.7"/><circle cx="1500.3" cy="1273.2" r="6.7"/><circle cx="1551.3" cy="1274.2" r="6.7"/><circle cx="1555.3" cy="1281.2" r="6.7"/><circle cx="1385.6" cy="1275.2" r="6.7"/><circle cx="1377.7" cy="1285.1" r="6.7"/><circle cx="1313.8" cy="1276.8" r="6.7"/><circle cx="1325.1" cy="1285.7" r="6.7"/><circle cx="1525.5" cy="1284.1" r="6.7"/><circle cx="1418.8" cy="1288.1" r="6.7"/><circle cx="1447.1" cy="1287.1" r="6.7"/><circle cx="1440.2" cy="1291.1" r="6.7"/><circle cx="1432.7" cy="1297.0" r="6.7"/><circle cx="1502.1" cy="1290.5" r="6.7"/><circle cx="1491.2" cy="1299.6" r="6.7"/><circle cx="1524.9" cy="1305.4" r="6.7"/><circle cx="1452.5" cy="1309.9" r="6.7"/><circle cx="1258.8" cy="1311.9" r="6.7"/><circle cx="1539.4" cy="1314.9" r="6.7"/><circle cx="1542.4" cy="1318.8" r="6.7"/><circle cx="1292.4" cy="1319.8" r="6.7"/><circle cx="1270.6" cy="1324.2" r="6.7"/><circle cx="1350.9" cy="1321.8" r="6.7"/><circle cx="1348.9" cy="1329.8" r="6.7"/><circle cx="1395.6" cy="1328.4" r="6.7"/><circle cx="1490.4" cy="1326.8" r="6.7"/><circle cx="1459.4" cy="1334.7" r="6.7"/><circle cx="1537.4" cy="1335.7" r="6.7"/><circle cx="1547.3" cy="1332.7" r="6.7"/><circle cx="1484.8" cy="1339.7" r="6.7"/><circle cx="1503.7" cy="1338.7" r="6.7"/><circle cx="1508.7" cy="1340.7" r="6.7"/><circle cx="1330.7" cy="1346.6" r="6.7"/><circle cx="1475.9" cy="1347.6" r="6.7"/><circle cx="1523.5" cy="1347.6" r="6.7"/><circle cx="1560.2" cy="1347.6" r="6.7"/><circle cx="1631.1" cy="1106.3" r="6.7"/><circle cx="1603.3" cy="1128.8" r="6.7"/><circle cx="1999.6" cy="1139.1" r="6.7"/><circle cx="1580.5" cy="1180.0" r="6.7"/><circle cx="1640.2" cy="1186.9" r="6.7"/><circle cx="1610.7" cy="1198.8" r="6.7"/><circle cx="1614.6" cy="1204.8" r="6.7"/><circle cx="1616.6" cy="1212.7" r="6.7"/><circle cx="1651.3" cy="1203.2" r="6.7"/><circle cx="1665.2" cy="1207.3" r="6.7"/><circle cx="1712.5" cy="1200.8" r="6.7"/><circle cx="1586.9" cy="1215.7" r="6.7"/><circle cx="1602.3" cy="1215.7" r="6.7"/><circle cx="1607.3" cy="1233.1" r="6.7"/><circle cx="1624.2" cy="1232.1" r="6.7"/><circle cx="1637.7" cy="1230.2" r="6.7"/><circle cx="1713.8" cy="1238.1" r="6.7"/><circle cx="1774.0" cy="1233.9" r="6.7"/><circle cx="1586.9" cy="1245.2" r="6.7"/><circle cx="1685.5" cy="1258.1" r="6.7"/><circle cx="1620.6" cy="1261.3" r="6.7"/><circle cx="1630.5" cy="1262.3" r="6.7"/><circle cx="1619.6" cy="1267.3" r="6.7"/><circle cx="1647.4" cy="1265.7" r="6.7"/><circle cx="1582.3" cy="1274.2" r="6.7"/><circle cx="1580.9" cy="1280.2" r="6.7"/><circle cx="1632.9" cy="1282.1" r="6.7"/><circle cx="1658.9" cy="1281.7" r="6.7"/><circle cx="1693.0" cy="1284.1" r="6.7"/><circle cx="1725.4" cy="1279.6" r="6.7"/><circle cx="1645.4" cy="1290.1" r="6.7"/><circle cx="1609.3" cy="1296.4" r="6.7"/><circle cx="1573.0" cy="1304.0" r="6.7"/><circle cx="1587.3" cy="1307.9" r="6.7"/><circle cx="1626.3" cy="1304.4" r="6.7"/><circle cx="1646.4" cy="1304.0" r="6.7"/><circle cx="1641.4" cy="1311.5" r="6.7"/><circle cx="1659.3" cy="1311.5" r="6.7"/><circle cx="1933.3" cy="1305.8" r="6.7"/><circle cx="1684.1" cy="1315.3" r="6.7"/><circle cx="1710.9" cy="1323.8" r="6.7"/><circle cx="1706.5" cy="1335.7" r="6.7"/><circle cx="1655.7" cy="1336.7" r="6.7"/><circle cx="1631.5" cy="1340.7" r="6.7"/><circle cx="1638.5" cy="1342.7" r="6.7"/><circle cx="817.1" cy="1363.9" r="6.7"/><circle cx="902.1" cy="1369.6" r="6.7"/><circle cx="1535.0" cy="1356.9" r="6.7"/><circle cx="1320.2" cy="1374.8" r="6.7"/><circle cx="1365.8" cy="1378.2" r="6.7"/><circle cx="1372.7" cy="1385.3" r="6.7"/><circle cx="1386.6" cy="1375.4" r="6.7"/><circle cx="1454.5" cy="1377.4" r="6.7"/><circle cx="1498.1" cy="1381.2" r="6.7"/><circle cx="1480.9" cy="1386.7" r="6.7"/><circle cx="1289.4" cy="1397.0" r="6.7"/><circle cx="1437.4" cy="1400.6" r="6.7"/><circle cx="1495.2" cy="1403.6" r="6.7"/><circle cx="1522.3" cy="1401.0" r="6.7"/><circle cx="1546.9" cy="1408.9" r="6.7"/><circle cx="1425.7" cy="1414.9" r="6.7"/><circle cx="1542.4" cy="1432.5" r="6.7"/><circle cx="1337.8" cy="1440.9" r="6.7"/><circle cx="1478.3" cy="1438.7" r="6.7"/><circle cx="1462.6" cy="1447.2" r="6.7"/><circle cx="1293.4" cy="1475.4" r="6.7"/><circle cx="1423.9" cy="1482.5" r="6.7"/><circle cx="1552.3" cy="1490.3" r="6.7"/><circle cx="1470.4" cy="1500.8" r="6.7"/><circle cx="1441.4" cy="1524.6" r="6.7"/><circle cx="1441.2" cy="1544.4" r="6.7"/><circle cx="1616.6" cy="1351.6" r="6.7"/><circle cx="1624.6" cy="1353.0" r="6.7"/><circle cx="1640.4" cy="1355.0" r="6.7"/><circle cx="1750.6" cy="1351.6" r="6.7"/><circle cx="1597.2" cy="1359.5" r="6.7"/><circle cx="1572.0" cy="1378.4" r="6.7"/><circle cx="1604.7" cy="1382.5" r="6.7"/><circle cx="1698.4" cy="1395.0" r="6.7"/><circle cx="1643.4" cy="1418.8" r="6.7"/><circle cx="1745.6" cy="1418.5" r="6.7"/><circle cx="1643.4" cy="1442.7" r="6.7"/><circle cx="1621.8" cy="1507.3" r="6.7"/><circle cx="1736.3" cy="1520.2" r="6.7"/><circle cx="1589.8" cy="1549.2" r="6.7"/><circle cx="1663.1" cy="1585.5" r="6.7"/></g>
<g fill="#3b528b"><circle cx="938.0" cy="346.4" r="6.7"/><circle cx="904.4" cy="397.6" r="6.7"/><circle cx="1324.9" cy="181.7" r="6.7"/><circle cx="1104.3" cy="283.1" r="6.7"/><circle cx="1531.5" cy="435.3" r="6.7"/><circle cx="1661.1" cy="235.7" r="6.7"/><circle cx="1917.8" cy="434.7" r="6.7"/><circle cx="814.8" cy="465.7" r="6.7"/><circle cx="1033.8" cy="594.4" r="6.7"/><circle cx="1045.1" cy="655.4" r="6.7"/><circle cx="920.1" cy="666.9" r="6.7"/><circle cx="1080.6" cy="678.8" r="6.7"/><circle cx="981.6" cy="698.4" r="6.7"/><circle cx="1023.3" cy="709.9" r="6.7"/><circle cx="964.2" cy="714.7" r="6.7"/><circle cx="1029.0" cy="730.0" r="6.7"/><circle cx="976.3" cy="733.3" r="6.7"/><circle cx="941.3" cy="739.3" r="6.7"/><circle cx="913.0" cy="741.7" r="6.7"/><circle cx="1115.3" cy="644.6" r="6.7"/><circle cx="1267.1" cy="706.6" r="6.7"/><circle cx="1279.0" cy="704.7" r="6.7"/><circle cx="1149.3" cy="724.0" r="6.7"/><circle cx="1126.9" cy="738.9" r="6.7"/><circle cx="1373.8" cy="688.8" r="6.7"/><circle cx="2030.9" cy="714.5" r="6.7"/><circle cx="815.8" cy="758.5" r="6.7"/><circle cx="803.8" cy="765.1" r="6.7"/><circle cx="942.5" cy="767.3" r="6.7"/><circle cx="1010.0" cy="764.9" r="6.7"/><circle cx="907.0" cy="782.7" r="6.7"/><circle cx="873.9" cy="784.1" r="6.7"/><circle cx="945.3" cy="788.5" r="6.7"/><circle cx="986.6" cy="777.4" r="6.7"/><circle cx="989.0" cy="783.7" r="6.7"/><circle cx="998.9" cy="788.3" r="6.7"/><circle cx="1041.0" cy="784.9" r="6.7"/><circle cx="1023.1" cy="789.7" r="6.7"/><circle cx="1016.7" cy="795.6" r="6.7"/><circle cx="1029.6" cy="799.6" r="6.7"/><circle cx="845.5" cy="797.2" r="6.7"/><circle cx="870.3" cy="801.2" r="6.7"/><circle cx="849.1" cy="809.5" r="6.7"/><circle cx="977.7" cy="801.6" r="6.7"/><circle cx="999.9" cy="806.9" r="6.7"/><circle cx="1012.8" cy="809.5" r="6.7"/><circle cx="1073.3" cy="807.9" r="6.7"/><circle cx="1031.8" cy="814.9" r="6.7"/><circle cx="975.5" cy="817.9" r="6.7"/><circle cx="896.1" cy="823.2" r="6.7"/><circle cx="1001.9" cy="822.4" r="6.7"/><circle cx="938.6" cy="836.3" r="6.7"/><circle cx="954.2" cy="843.3" r="6.7"/><circle cx="984.6" cy="832.3" r="6.7"/><circle cx="979.0" cy="836.3" r="6.7"/><circle cx="1051.5" cy="840.5" r="6.7"/><circle cx="912.0" cy="852.6" r="6.7"/><circle cx="977.5" cy="852.2" r="6.7"/><circle cx="1031.6" cy="847.2" r="6.7"/><circle cx="1038.6" cy="852.2" r="6.7"/><circle cx="990.6" cy="858.1" r="6.7"/><circle cx="1000.5" cy="858.5" r="6.7"/><circle cx="1062.8" cy="868.3" r="6.7"/><circle cx="944.3" cy="874.4" r="6.7"/><circle cx="979.0" cy="871.0" r="6.7"/><circle cx="984.0" cy="877.0" r="6.7"/><circle cx="992.9" cy="878.0" r="6.7"/><circle cx="1030.6" cy="883.3" r="6.7"/><circle cx="1064.4" cy="888.5" r="6.7"/><circle cx="856.0" cy="890.3" r="6.7"/><circle cx="891.3" cy="888.9" r="6.7"/><circle cx="892.7" cy="892.9" r="6.7"/><circle cx="876.7" cy="897.6" r="6.7"/><circle cx="922.7" cy="900.4" r="6.7"/><circle cx="805.0" cy="901.2" r="6.7"/><circle cx="797.5" cy="906.3" r="6.7"/><circle cx="1024.1" cy="905.8" r="6.7"/><circle cx="1026.7" cy="913.7" r="6.7"/><circle cx="1042.7" cy="904.8" r="6.7"/><circle cx="1056.4" cy="902.8" r="6.7"/><circle cx="902.7" cy="912.7" r="6.7"/><circle cx="955.4" cy="911.1" r="6.7"/><circle cx="1009.8" cy="918.7" r="6.7"/><circle cx="1014.8" cy="922.2" r="6.7"/><circle cx="953.3" cy="928.0" r="6.7"/><circle cx="748.7" cy="931.7" r="6.7"/><circle cx="838.6" cy="932.5" r="6.7"/><circle cx="821.9" cy="938.7" r="6.7"/><circle cx="982.8" cy="937.7" r="6.7"/><circle cx="916.5" cy="944.6" r="6.7"/><circle cx="1006.0" cy="944.8" r="6.7"/><circle cx="1052.5" cy="944.4" r="6.7"/><circle cx="1058.4" cy="946.0" r="6.7"/><circle cx="1064.4" cy="945.4" r="6.7"/><circle cx="1021.1" cy="956.3" r="6.7"/><circle cx="744.3" cy="958.3" r="6.7"/><circle cx="692.7" cy="962.7" r="6.7"/><circle cx="925.5" cy="960.3" r="6.7"/><circle cx="926.9" cy="963.9" r="6.7"/><circle cx="840.8" cy="970.6" r="6.7"/><circle cx="863.6" cy="967.5" r="6.7"/><circle cx="891.7" cy="968.3" r="6.7"/><circle cx="889.2" cy="970.6" r="6.7"/><circle cx="1043.1" cy="967.3" r="6.7"/><circle cx="953.3" cy="981.2" r="6.7"/><circle cx="699.3" cy="984.9" r="6.7"/><circle cx="1077.3" cy="983.1" r="6.7"/><circle cx="1080.2" cy="987.1" r="6.7"/><circle cx="989.4" cy="987.7" r="6.7"/><circle cx="783.2" cy="993.3" r="6.7"/><circle cx="809.4" cy="993.1" r="6.7"/><circle cx="823.5" cy="991.3" r="6.7"/><circle cx="931.8" cy="993.3" r="6.7"/><circle cx="954.6" cy="995.0" r="6.7"/><circle cx="1034.0" cy="995.4" r="6.7"/><circle cx="1058.4" cy="997.4" r="6.7"/><circle cx="806.0" cy="1004.0" r="6.7"/><circle cx="844.5" cy="1006.0" r="6.7"/><circle cx="897.1" cy="1004.0" r="6.7"/><circle cx="967.1" cy="1003.4" r="6.7"/><circle cx="937.6" cy="1018.3" r="6.7"/><circle cx="960.8" cy="1017.9" r="6.7"/><circle cx="972.7" cy="1016.3" r="6.7"/><circle cx="995.5" cy="1019.4" r="6.7"/><circle cx="1009.8" cy="1022.2" r="6.7"/><circle cx="1043.5" cy="1014.3" r="6.7"/><circle cx="1051.5" cy="1013.9" r="6.7"/><circle cx="1029.6" cy="1023.8" r="6.7"/><circle cx="887.8" cy="1029.4" r="6.7"/><circle cx="939.8" cy="1030.2" r="6.7"/><circle cx="996.9" cy="1029.4" r="6.7"/><circle cx="1069.9" cy="1030.2" r="6.7"/><circle cx="764.0" cy="1036.7" r="6.7"/><circle cx="863.0" cy="1040.7" r="6.7"/><circle cx="1018.7" cy="1043.3" r="6.7"/><circle cx="1066.3" cy="1042.7" r="6.7"/><circle cx="1134.6" cy="755.0" r="6.7"/><circle cx="1109.8" cy="765.9" r="6.7"/><circle cx="1150.9" cy="766.3" r="6.7"/><circle cx="1185.6" cy="762.9" r="6.7"/><circle cx="1296.3" cy="785.7" r="6.7"/><circle cx="1115.0" cy="796.0" r="6.7"/><circle cx="1206.1" cy="796.6" r="6.7"/><circle cx="1185.6" cy="808.5" r="6.7"/><circle cx="1160.4" cy="814.9" r="6.7"/><circle cx="1101.5" cy="820.0" r="6.7"/><circle cx="1137.6" cy="840.3" r="6.7"/><circle cx="1134.6" cy="843.3" r="6.7"/><circle cx="1090.0" cy="842.9" r="6.7"/><circle cx="1188.2" cy="841.3" r="6.7"/><circle cx="1114.4" cy="851.8" r="6.7"/><circle cx="1144.6" cy="874.6" r="6.7"/><circle cx="1117.2" cy="879.2" r="6.7"/><circle cx="1138.6" cy="885.5" r="6.7"/><circle cx="1090.0" cy="898.4" r="6.7"/><circle cx="1129.3" cy="900.2" r="6.7"/><circle cx="1145.0" cy="902.8" r="6.7"/><circle cx="1091.0" cy="914.3" r="6.7"/><circle cx="1118.4" cy="927.2" r="6.7"/><circle cx="1091.0" cy="940.5" r="6.7"/><circle cx="1119.8" cy="961.9" r="6.7"/><circle cx="1232.9" cy="968.5" r="6.7"/><circle cx="1193.6" cy="973.8" r="6.7"/><circle cx="1431.9" cy="974.2" r="6.7"/><circle cx="1105.3" cy="985.3" r="6.7"/><circle cx="1179.1" cy="986.5" r="6.7"/><circle cx="1116.8" cy="997.2" r="6.7"/><circle cx="1223.9" cy="1038.1" r="6.7"/><circle cx="1105.9" cy="1035.1" r="6.7"/><circle cx="1112.8" cy="1040.1" r="6.7"/><circle cx="1292.8" cy="1042.7" r="6.7"/><circle cx="2047.2" cy="943.5" r="6.7"/><circle cx="2013.8" cy="1029.0" r="6.7"/><circle cx="898.7" cy="1052.4" r="6.7"/><circle cx="921.5" cy="1054.0" r="6.7"/><circle cx="955.2" cy="1057.3" r="6.7"/><circle cx="1036.6" cy="1052.4" r="6.7"/><circle cx="1080.2" cy="1053.6" r="6.7"/><circle cx="1007.8" cy="1061.9" r="6.7"/><circle cx="1013.8" cy="1058.9" r="6.7"/><circle cx="1033.6" cy="1064.9" r="6.7"/><circle cx="912.4" cy="1069.8" r="6.7"/><circle cx="980.4" cy="1076.8" r="6.7"/><circle cx="926.3" cy="1086.3" r="6.7"/><circle cx="962.4" cy="1086.3" r="6.7"/><circle cx="987.0" cy="1091.3" r="6.7"/><circle cx="1025.3" cy="1090.5" r="6.7"/><circle cx="1038.6" cy="1087.7" r="6.7"/><circle cx="1050.5" cy="1099.6" r="6.7"/><circle cx="1041.5" cy="1106.0" r="6.7"/><circle cx="1053.5" cy="1106.5" r="6.7"/><circle cx="935.4" cy="1106.5" r="6.7"/><circle cx="943.3" cy="1110.5" r="6.7"/><circle cx="955.2" cy="1116.5" r="6.7"/><circle cx="947.3" cy="1118.5" r="6.7"/><circle cx="944.3" cy="1123.4" r="6.7"/><circle cx="969.5" cy="1121.4" r="6.7"/><circle cx="960.2" cy="1128.0" r="6.7"/><circle cx="936.4" cy="1133.9" r="6.7"/><circle cx="978.5" cy="1141.1" r="6.7"/><circle cx="1040.6" cy="1136.9" r="6.7"/><circle cx="1018.1" cy="1141.9" r="6.7"/><circle cx="1016.2" cy="1150.2" r="6.7"/><circle cx="1028.3" cy="1156.3" r="6.7"/><circle cx="941.9" cy="1164.9" r="6.7"/><circle cx="896.5" cy="1182.9" r="6.7"/><circle cx="1083.8" cy="1197.8" r="6.7"/><circle cx="994.5" cy="1211.7" r="6.7"/><circle cx="1062.4" cy="1261.9" r="6.7"/><circle cx="1077.3" cy="1285.1" r="6.7"/><circle cx="1054.4" cy="1334.1" r="6.7"/><circle cx="1105.3" cy="1073.2" r="6.7"/><circle cx="1102.5" cy="1094.6" r="6.7"/><circle cx="1115.4" cy="1116.5" r="6.7"/><circle cx="1116.4" cy="1127.4" r="6.7"/><circle cx="1168.6" cy="1105.0" r="6.7"/><circle cx="1280.9" cy="1156.3" r="6.7"/><circle cx="1264.2" cy="1184.9" r="6.7"/><circle cx="1109.0" cy="1196.2" r="6.7"/><circle cx="1235.4" cy="1214.7" r="6.7"/><circle cx="1103.5" cy="1223.8" r="6.7"/><circle cx="1091.0" cy="1236.9" r="6.7"/><circle cx="1135.2" cy="1248.0" r="6.7"/><circle cx="1175.7" cy="1245.8" r="6.7"/><circle cx="1280.9" cy="1298.0" r="6.7"/><circle cx="1974.0" cy="1138.9" r="6.7"/><circle cx="2024.0" cy="1147.0" r="6.7"/><circle cx="853.3" cy="1377.6" r="6.7"/><circle cx="921.5" cy="1398.6" r="6.7"/><circle cx="1071.7" cy="1537.1" r="6.7"/><circle cx="1692.4" cy="1542.7" r="6.7"/><circle cx="1721.0" cy="1550.0" r="6.7"/><circle cx="1648.2" cy="1564.7" r="6.7"/><circle cx="1016.3" cy="812.5" r="6.7"/><circle cx="1005.9" cy="825.4" r="6.7"/></g>
<g fill="#440154"><circle cx="896.1" cy="358.1" r="6.7"/><circle cx="867.7" cy="422.8" r="6.7"/><circle cx="1471.2" cy="180.0" r="6.7"/><circle cx="1492.4" cy="254.4" r="6.7"/><circle cx="1364.2" cy="281.3" r="6.7"/><circle cx="1450.5" cy="297.4" r="6.7"/><circle cx="1380.1" cy="305.0" r="6.7"/><circle cx="1350.7" cy="335.9" r="6.7"/><circle cx="1341.2" cy="350.4" r="6.7"/><circle cx="1316.8" cy="357.9" r="6.7"/><circle cx="1402.9" cy="364.7" r="6.7"/><circle cx="1416.6" cy="362.7" r="6.7"/><circle cx="1435.8" cy="367.9" r="6.7"/><circle cx="1367.8" cy="372.6" r="6.7"/><circle cx="1539.2" cy="368.8" r="6.7"/><circle cx="1500.5" cy="380.8" r="6.7"/><circle cx="1317.4" cy="395.8" r="6.7"/><circle cx="1269.0" cy="408.1" r="6.7"/><circle cx="1289.6" cy="413.5" r="6.7"/><circle cx="1340.4" cy="412.3" r="6.7"/><circle cx="1406.9" cy="411.5" r="6.7"/><circle cx="1549.3" cy="405.6" r="6.7"/><circle cx="1556.3" cy="412.3" r="6.7"/><circle cx="1560.0" cy="420.8" r="6.7"/><circle cx="1236.2" cy="427.2" r="6.7"/><circle cx="1237.0" cy="437.3" r="6.7"/><circle cx="1396.2" cy="427.8" r="6.7"/><circle cx="1460.2" cy="424.8" r="6.7"/><circle cx="1428.1" cy="431.0" r="6.7"/><circle cx="1486.0" cy="425.4" r="6.7"/><circle cx="1499.7" cy="422.6" r="6.7"/><circle cx="1505.5" cy="436.9" r="6.7"/><circle cx="1562.6" cy="440.5" r="6.7"/><circle cx="1381.7" cy="437.1" r="6.7"/><circle cx="1383.7" cy="443.7" r="6.7"/><circle cx="1361.0" cy="444.6" r="6.7"/><circle cx="1600.4" cy="208.5" r="6.7"/><circle cx="1676.9" cy="334.9" r="6.7"/><circle cx="1832.5" cy="382.3" r="6.7"/><circle cx="1617.0" cy="384.3" r="6.7"/><circle cx="1670.0" cy="390.7" r="6.7"/><circle cx="1883.5" cy="441.5" r="6.7"/><circle cx="1619.0" cy="442.3" r="6.7"/><circle cx="733.0" cy="562.5" r="6.7"/><circle cx="1013.6" cy="574.8" r="6.7"/><circle cx="1298.8" cy="450.5" r="6.7"/><circle cx="1321.2" cy="456.0" r="6.7"/><circle cx="1266.9" cy="472.4" r="6.7"/><circle cx="1277.5" cy="481.3" r="6.7"/><circle cx="1311.4" cy="472.4" r="6.7"/><circle cx="1197.4" cy="490.3" r="6.7"/><circle cx="1225.3" cy="505.0" r="6.7"/><circle cx="1127.3" cy="508.9" r="6.7"/><circle cx="1270.6" cy="528.5" r="6.7"/><circle cx="1143.5" cy="536.8" r="6.7"/><circle cx="1231.6" cy="542.5" r="6.7"/><circle cx="1266.8" cy="552.2" r="6.7"/><circle cx="1307.4" cy="564.3" r="6.7"/><circle cx="1177.0" cy="574.6" r="6.7"/><circle cx="1316.9" cy="580.5" r="6.7"/><circle cx="1321.4" cy="588.7" r="6.7"/><circle cx="1293.4" cy="594.3" r="6.7"/><circle cx="1332.0" cy="456.0" r="6.7"/><circle cx="1343.9" cy="451.5" r="6.7"/><circle cx="1366.5" cy="456.4" r="6.7"/><circle cx="1400.6" cy="450.5" r="6.7"/><circle cx="1383.8" cy="463.4" r="6.7"/><circle cx="1431.4" cy="456.7" r="6.7"/><circle cx="1449.5" cy="451.0" r="6.7"/><circle cx="1395.5" cy="483.2" r="6.7"/><circle cx="1473.8" cy="473.8" r="6.7"/><circle cx="1460.5" cy="483.2" r="6.7"/><circle cx="1390.5" cy="494.6" r="6.7"/><circle cx="1450.0" cy="492.7" r="6.7"/><circle cx="1459.5" cy="497.1" r="6.7"/><circle cx="1495.5" cy="490.2" r="6.7"/><circle cx="1546.8" cy="483.2" r="6.7"/><circle cx="1544.3" cy="490.2" r="6.7"/><circle cx="1342.4" cy="502.3" r="6.7"/><circle cx="1365.4" cy="502.4" r="6.7"/><circle cx="1399.4" cy="504.4" r="6.7"/><circle cx="1556.4" cy="501.3" r="6.7"/><circle cx="1446.1" cy="519.4" r="6.7"/><circle cx="1450.5" cy="513.5" r="6.7"/><circle cx="1491.5" cy="516.3" r="6.7"/><circle cx="1519.0" cy="509.5" r="6.7"/><circle cx="1515.0" cy="516.3" r="6.7"/><circle cx="1530.4" cy="518.5" r="6.7"/><circle cx="1534.4" cy="526.9" r="6.7"/><circle cx="1405.4" cy="523.9" r="6.7"/><circle cx="1412.8" cy="522.4" r="6.7"/><circle cx="1381.3" cy="527.4" r="6.7"/><circle cx="1385.1" cy="535.3" r="6.7"/><circle cx="1378.6" cy="540.8" r="6.7"/><circle cx="1381.3" cy="547.7" r="6.7"/><circle cx="1427.0" cy="537.9" r="6.7"/><circle cx="1453.3" cy="532.3" r="6.7"/><circle cx="1527.7" cy="550.4" r="6.7"/><circle cx="1508.1" cy="552.2" r="6.7"/><circle cx="1493.7" cy="559.1" r="6.7"/><circle cx="1505.4" cy="562.6" r="6.7"/><circle cx="1483.8" cy="566.1" r="6.7"/><circle cx="1337.9" cy="564.1" r="6.7"/><circle cx="1334.0" cy="571.5" r="6.7"/><circle cx="1356.3" cy="564.9" r="6.7"/><circle cx="1376.6" cy="582.4" r="6.7"/><circle cx="1382.6" cy="581.9" r="6.7"/><circle cx="1416.8" cy="577.0" r="6.7"/><circle cx="1417.3" cy="581.0" r="6.7"/><circle cx="1536.8" cy="581.0" r="6.7"/><circle cx="1559.4" cy="580.6" r="6.7"/><circle cx="1505.6" cy="589.9" r="6.7"/><circle cx="1457.0" cy="592.9" r="6.7"/><circle cx="1461.0" cy="592.9" r="6.7"/><circle cx="1565.1" cy="594.8" r="6.7"/><circle cx="1272.5" cy="601.8" r="6.7"/><circle cx="1317.2" cy="609.4" r="6.7"/><circle cx="1310.4" cy="616.4" r="6.7"/><circle cx="1200.9" cy="612.9" r="6.7"/><circle cx="1324.6" cy="641.7" r="6.7"/><circle cx="1230.7" cy="671.9" r="6.7"/><circle cx="1141.6" cy="677.4" r="6.7"/><circle cx="1260.4" cy="693.3" r="6.7"/><circle cx="1273.0" cy="733.4" r="6.7"/><circle cx="1339.9" cy="606.4" r="6.7"/><circle cx="1336.0" cy="601.5" r="6.7"/><circle cx="1419.8" cy="606.7" r="6.7"/><circle cx="1514.0" cy="603.0" r="6.7"/><circle cx="1479.5" cy="613.4" r="6.7"/><circle cx="1542.0" cy="610.9" r="6.7"/><circle cx="1364.4" cy="631.9" r="6.7"/><circle cx="1381.1" cy="633.9" r="6.7"/><circle cx="1434.9" cy="640.0" r="6.7"/><circle cx="1400.7" cy="648.3" r="6.7"/><circle cx="1513.3" cy="644.4" r="6.7"/><circle cx="1523.5" cy="652.4" r="6.7"/><circle cx="1538.0" cy="667.0" r="6.7"/><circle cx="1553.4" cy="677.4" r="6.7"/><circle cx="1415.5" cy="673.9" r="6.7"/><circle cx="1474.0" cy="673.4" r="6.7"/><circle cx="1408.4" cy="691.1" r="6.7"/><circle cx="1472.9" cy="688.3" r="6.7"/><circle cx="1398.0" cy="706.9" r="6.7"/><circle cx="1450.3" cy="715.4" r="6.7"/><circle cx="1591.8" cy="454.0" r="6.7"/><circle cx="1641.0" cy="456.9" r="6.7"/><circle cx="1697.2" cy="461.3" r="6.7"/><circle cx="1616.2" cy="470.8" r="6.7"/><circle cx="1633.9" cy="469.6" r="6.7"/><circle cx="1570.0" cy="486.7" r="6.7"/><circle cx="1952.3" cy="473.4" r="6.7"/><circle cx="1921.0" cy="492.5" r="6.7"/><circle cx="1944.6" cy="534.1" r="6.7"/><circle cx="1584.9" cy="506.9" r="6.7"/><circle cx="1681.9" cy="508.7" r="6.7"/><circle cx="1743.4" cy="507.1" r="6.7"/><circle cx="1573.0" cy="518.5" r="6.7"/><circle cx="1576.9" cy="529.4" r="6.7"/><circle cx="1660.9" cy="526.6" r="6.7"/><circle cx="1599.8" cy="536.9" r="6.7"/><circle cx="1607.3" cy="542.3" r="6.7"/><circle cx="1634.9" cy="542.5" r="6.7"/><circle cx="1771.8" cy="535.9" r="6.7"/><circle cx="1738.8" cy="542.3" r="6.7"/><circle cx="1570.0" cy="554.2" r="6.7"/><circle cx="1597.8" cy="556.3" r="6.7"/><circle cx="1680.7" cy="555.4" r="6.7"/><circle cx="1743.4" cy="556.3" r="6.7"/><circle cx="1816.6" cy="555.8" r="6.7"/><circle cx="1844.4" cy="559.7" r="6.7"/><circle cx="1629.1" cy="574.2" r="6.7"/><circle cx="1642.4" cy="571.8" r="6.7"/><circle cx="1673.2" cy="575.6" r="6.7"/><circle cx="1705.7" cy="579.6" r="6.7"/><circle cx="1576.9" cy="582.9" r="6.7"/><circle cx="1608.3" cy="584.5" r="6.7"/><circle cx="1893.4" cy="594.2" r="6.7"/><circle cx="1656.3" cy="598.2" r="6.7"/><circle cx="1577.9" cy="606.7" r="6.7"/><circle cx="1584.9" cy="608.7" r="6.7"/><circle cx="1589.2" cy="623.2" r="6.7"/><circle cx="1694.0" cy="622.2" r="6.7"/><circle cx="1763.5" cy="627.6" r="6.7"/><circle cx="1725.8" cy="634.5" r="6.7"/><circle cx="1723.2" cy="638.5" r="6.7"/><circle cx="2013.1" cy="629.8" r="6.7"/><circle cx="1623.6" cy="654.6" r="6.7"/><circle cx="1631.1" cy="666.9" r="6.7"/><circle cx="1694.0" cy="656.9" r="6.7"/><circle cx="1586.7" cy="669.6" r="6.7"/><circle cx="1606.7" cy="720.8" r="6.7"/><circle cx="1643.8" cy="727.6" r="6.7"/><circle cx="1577.5" cy="743.7" r="6.7"/><circle cx="628.5" cy="914.1" r="6.7"/><circle cx="1115.8" cy="768.5" r="6.7"/><circle cx="1300.3" cy="779.8" r="6.7"/><circle cx="1385.8" cy="796.6" r="6.7"/><circle cx="1559.4" cy="834.1" r="6.7"/><circle cx="1187.2" cy="847.2" r="6.7"/><circle cx="1513.6" cy="947.6" r="6.7"/><circle cx="1348.3" cy="999.0" r="6.7"/><circle cx="1664.2" cy="972.6" r="6.7"/><circle cx="662.4" cy="1091.3" r="6.7"/><circle cx="917.1" cy="1110.1" r="6.7"/><circle cx="692.3" cy="1148.4" r="6.7"/><circle cx="1170.0" cy="1158.1" r="6.7"/><circle cx="875.5" cy="1421.8" r="6.7"/><circle cx="913.4" cy="1431.3" r="6.7"/><circle cx="963.4" cy="1431.0" r="6.7"/><circle cx="987.8" cy="1474.0" r="6.7"/><circle cx="1016.0" cy="1484.9" r="6.7"/><circle cx="1042.9" cy="1512.3" r="6.7"/><circle cx="1311.4" cy="1481.5" r="6.7"/><circle cx="1095.0" cy="1509.3" r="6.7"/><circle cx="1466.4" cy="1619.8" r="6.7"/><circle cx="1520.0" cy="1618.1" r="6.7"/><circle cx="1895.0" cy="1385.7" r="6.7"/><circle cx="1790.6" cy="1481.9" r="6.7"/></g>
<g fill="#5ec962"><circle cx="1075.9" cy="274.0" r="6.7"/><circle cx="1031.2" cy="286.5" r="6.7"/><circle cx="1342.4" cy="416.7" r="6.7"/><circle cx="776.3" cy="504.0" r="6.7"/><circle cx="677.1" cy="675.0" r="6.7"/><circle cx="1386.3" cy="476.3" r="6.7"/><circle cx="1441.6" cy="570.3" r="6.7"/><circle cx="1465.9" cy="579.8" r="6.7"/><circle cx="1519.5" cy="592.9" r="6.7"/><circle cx="1459.5" cy="632.4" r="6.7"/><circle cx="1545.1" cy="696.4" r="6.7"/><circle cx="1460.5" cy="699.7" r="6.7"/><circle cx="1476.6" cy="716.6" r="6.7"/><circle cx="1519.5" cy="719.5" r="6.7"/><circle cx="1520.0" cy="726.5" r="6.7"/><circle cx="1421.5" cy="729.5" r="6.7"/><circle cx="1471.4" cy="727.5" r="6.7"/><circle cx="1486.4" cy="728.5" r="6.7"/><circle cx="1566.1" cy="735.4" r="6.7"/><circle cx="1388.8" cy="739.4" r="6.7"/><circle cx="1395.5" cy="746.8" r="6.7"/><circle cx="1442.4" cy="743.4" r="6.7"/><circle cx="1516.5" cy="743.8" r="6.7"/><circle cx="1598.0" cy="590.1" r="6.7"/><circle cx="1694.8" cy="587.7" r="6.7"/><circle cx="1767.8" cy="595.8" r="6.7"/><circle cx="1589.8" cy="637.9" r="6.7"/><circle cx="1706.3" cy="662.3" r="6.7"/><circle cx="1674.4" cy="683.1" r="6.7"/><circle cx="1576.5" cy="710.3" r="6.7"/><circle cx="1701.5" cy="709.5" r="6.7"/><circle cx="1595.8" cy="721.8" r="6.7"/><circle cx="1626.0" cy="717.7" r="6.7"/><circle cx="1805.5" cy="718.3" r="6.7"/><circle cx="1755.5" cy="728.6" r="6.7"/><circle cx="1026.7" cy="880.6" r="6.7"/><circle cx="1350.9" cy="758.7" r="6.7"/><circle cx="1429.3" cy="755.0" r="6.7"/><circle cx="1435.6" cy="768.3" r="6.7"/><circle cx="1429.3" cy="776.8" r="6.7"/><circle cx="1430.9" cy="782.7" r="6.7"/><circle cx="1512.2" cy="780.4" r="6.7"/><circle cx="1544.8" cy="779.8" r="6.7"/><circle cx="1500.1" cy="787.1" r="6.7"/><circle cx="1337.2" cy="788.3" r="6.7"/><circle cx="1404.9" cy="795.6" r="6.7"/><circle cx="1451.9" cy="794.6" r="6.7"/><circle cx="1360.4" cy="802.6" r="6.7"/><circle cx="1424.3" cy="801.6" r="6.7"/><circle cx="1502.9" cy="802.8" r="6.7"/><circle cx="1447.1" cy="809.5" r="6.7"/><circle cx="1372.9" cy="813.9" r="6.7"/><circle cx="1536.0" cy="818.1" r="6.7"/><circle cx="1530.5" cy="822.4" r="6.7"/><circle cx="1387.6" cy="825.4" r="6.7"/><circle cx="1381.7" cy="832.3" r="6.7"/><circle cx="1422.7" cy="825.4" r="6.7"/><circle cx="1454.5" cy="826.4" r="6.7"/><circle cx="1462.0" cy="837.3" r="6.7"/><circle cx="1471.0" cy="839.3" r="6.7"/><circle cx="1478.3" cy="836.7" r="6.7"/><circle cx="1492.4" cy="840.3" r="6.7"/><circle cx="1421.0" cy="840.3" r="6.7"/><circle cx="1315.2" cy="842.3" r="6.7"/><circle cx="1314.2" cy="847.2" r="6.7"/><circle cx="1377.7" cy="848.2" r="6.7"/><circle cx="1396.9" cy="845.6" r="6.7"/><circle cx="1535.4" cy="840.3" r="6.7"/><circle cx="1544.4" cy="844.8" r="6.7"/><circle cx="1553.9" cy="852.2" r="6.7"/><circle cx="1471.0" cy="849.2" r="6.7"/><circle cx="1232.9" cy="857.3" r="6.7"/><circle cx="1446.2" cy="854.2" r="6.7"/><circle cx="1366.8" cy="854.2" r="6.7"/><circle cx="1363.8" cy="860.1" r="6.7"/><circle cx="1409.8" cy="870.6" r="6.7"/><circle cx="1458.5" cy="872.0" r="6.7"/><circle cx="1527.5" cy="870.0" r="6.7"/><circle cx="1531.5" cy="875.0" r="6.7"/><circle cx="1359.8" cy="871.0" r="6.7"/><circle cx="1361.8" cy="876.0" r="6.7"/><circle cx="1353.9" cy="880.0" r="6.7"/><circle cx="1339.0" cy="878.4" r="6.7"/><circle cx="1383.1" cy="879.0" r="6.7"/><circle cx="1289.4" cy="882.9" r="6.7"/><circle cx="1498.1" cy="886.5" r="6.7"/><circle cx="1562.6" cy="888.3" r="6.7"/><circle cx="1418.8" cy="890.9" r="6.7"/><circle cx="1369.2" cy="892.9" r="6.7"/><circle cx="1355.5" cy="897.8" r="6.7"/><circle cx="1307.9" cy="896.8" r="6.7"/><circle cx="1296.7" cy="903.8" r="6.7"/><circle cx="1545.0" cy="896.2" r="6.7"/><circle cx="1479.9" cy="896.8" r="6.7"/><circle cx="1483.8" cy="903.8" r="6.7"/><circle cx="1485.8" cy="908.7" r="6.7"/><circle cx="1481.3" cy="914.7" r="6.7"/><circle cx="1419.4" cy="903.8" r="6.7"/><circle cx="1373.7" cy="906.7" r="6.7"/><circle cx="1384.6" cy="907.7" r="6.7"/><circle cx="1366.8" cy="911.1" r="6.7"/><circle cx="1343.0" cy="912.3" r="6.7"/><circle cx="1387.0" cy="916.7" r="6.7"/><circle cx="1383.7" cy="919.6" r="6.7"/><circle cx="1505.3" cy="909.3" r="6.7"/><circle cx="1449.9" cy="916.1" r="6.7"/><circle cx="1435.6" cy="915.7" r="6.7"/><circle cx="1428.3" cy="920.6" r="6.7"/><circle cx="1414.4" cy="922.2" r="6.7"/><circle cx="1260.6" cy="918.3" r="6.7"/><circle cx="1474.5" cy="929.0" r="6.7"/><circle cx="1518.6" cy="932.1" r="6.7"/><circle cx="1565.6" cy="930.2" r="6.7"/><circle cx="1367.4" cy="936.9" r="6.7"/><circle cx="1461.4" cy="944.0" r="6.7"/><circle cx="1393.2" cy="949.4" r="6.7"/><circle cx="1423.3" cy="956.3" r="6.7"/><circle cx="1419.4" cy="961.3" r="6.7"/><circle cx="1513.2" cy="960.7" r="6.7"/><circle cx="1377.3" cy="966.3" r="6.7"/><circle cx="1474.5" cy="970.2" r="6.7"/><circle cx="1557.3" cy="970.2" r="6.7"/><circle cx="1492.4" cy="977.2" r="6.7"/><circle cx="1360.4" cy="983.5" r="6.7"/><circle cx="1506.1" cy="982.1" r="6.7"/><circle cx="1510.6" cy="987.5" r="6.7"/><circle cx="1438.4" cy="1003.0" r="6.7"/><circle cx="1503.7" cy="1009.9" r="6.7"/><circle cx="1562.2" cy="1010.3" r="6.7"/><circle cx="1298.3" cy="1013.9" r="6.7"/><circle cx="1471.9" cy="1030.8" r="6.7"/><circle cx="1368.4" cy="1035.1" r="6.7"/><circle cx="1537.4" cy="1043.7" r="6.7"/><circle cx="1654.9" cy="751.6" r="6.7"/><circle cx="1670.2" cy="757.5" r="6.7"/><circle cx="1753.1" cy="751.6" r="6.7"/><circle cx="1713.1" cy="763.5" r="6.7"/><circle cx="1576.5" cy="772.2" r="6.7"/><circle cx="1570.0" cy="766.9" r="6.7"/><circle cx="1768.8" cy="778.2" r="6.7"/><circle cx="2039.8" cy="780.4" r="6.7"/><circle cx="1602.1" cy="789.5" r="6.7"/><circle cx="1752.1" cy="789.1" r="6.7"/><circle cx="1876.7" cy="791.5" r="6.7"/><circle cx="1573.0" cy="798.6" r="6.7"/><circle cx="1684.1" cy="796.2" r="6.7"/><circle cx="1730.1" cy="798.2" r="6.7"/><circle cx="1756.5" cy="801.6" r="6.7"/><circle cx="1616.0" cy="803.8" r="6.7"/><circle cx="1627.1" cy="806.9" r="6.7"/><circle cx="1821.0" cy="806.9" r="6.7"/><circle cx="1826.3" cy="811.9" r="6.7"/><circle cx="1730.3" cy="811.5" r="6.7"/><circle cx="1664.8" cy="817.5" r="6.7"/><circle cx="1667.2" cy="823.0" r="6.7"/><circle cx="1702.3" cy="815.9" r="6.7"/><circle cx="1701.9" cy="823.8" r="6.7"/><circle cx="1600.4" cy="826.0" r="6.7"/><circle cx="1740.6" cy="835.3" r="6.7"/><circle cx="1752.5" cy="833.3" r="6.7"/><circle cx="1682.9" cy="835.3" r="6.7"/><circle cx="1668.2" cy="842.7" r="6.7"/><circle cx="1680.1" cy="847.2" r="6.7"/><circle cx="1611.1" cy="844.8" r="6.7"/><circle cx="1597.8" cy="857.1" r="6.7"/><circle cx="1701.7" cy="848.8" r="6.7"/><circle cx="1742.2" cy="849.6" r="6.7"/><circle cx="1780.3" cy="853.8" r="6.7"/><circle cx="1843.4" cy="853.2" r="6.7"/><circle cx="1853.7" cy="853.2" r="6.7"/><circle cx="1579.5" cy="863.1" r="6.7"/><circle cx="1616.2" cy="860.5" r="6.7"/><circle cx="1658.7" cy="862.5" r="6.7"/><circle cx="1672.2" cy="867.7" r="6.7"/><circle cx="1750.0" cy="865.7" r="6.7"/><circle cx="1779.7" cy="865.1" r="6.7"/><circle cx="1833.5" cy="865.1" r="6.7"/><circle cx="1627.5" cy="871.4" r="6.7"/><circle cx="1889.0" cy="871.8" r="6.7"/><circle cx="1772.8" cy="878.0" r="6.7"/><circle cx="1781.9" cy="882.5" r="6.7"/><circle cx="1728.1" cy="887.3" r="6.7"/><circle cx="1698.4" cy="888.9" r="6.7"/><circle cx="1576.5" cy="893.5" r="6.7"/><circle cx="1654.3" cy="891.9" r="6.7"/><circle cx="1664.2" cy="897.8" r="6.7"/><circle cx="1677.1" cy="897.0" r="6.7"/><circle cx="1775.4" cy="892.9" r="6.7"/><circle cx="1780.3" cy="904.8" r="6.7"/><circle cx="1767.4" cy="909.3" r="6.7"/><circle cx="1778.3" cy="914.7" r="6.7"/><circle cx="1770.4" cy="920.6" r="6.7"/><circle cx="1586.3" cy="907.7" r="6.7"/><circle cx="1724.8" cy="909.3" r="6.7"/><circle cx="1664.4" cy="912.3" r="6.7"/><circle cx="1645.4" cy="918.8" r="6.7"/><circle cx="1661.7" cy="927.6" r="6.7"/><circle cx="1620.2" cy="931.7" r="6.7"/><circle cx="1701.0" cy="934.7" r="6.7"/><circle cx="1812.5" cy="931.0" r="6.7"/><circle cx="1738.7" cy="937.3" r="6.7"/><circle cx="1751.9" cy="943.8" r="6.7"/><circle cx="1662.9" cy="943.8" r="6.7"/><circle cx="1721.0" cy="948.0" r="6.7"/><circle cx="1869.4" cy="949.6" r="6.7"/><circle cx="1641.4" cy="964.3" r="6.7"/><circle cx="1709.5" cy="962.3" r="6.7"/><circle cx="1700.0" cy="969.2" r="6.7"/><circle cx="1612.7" cy="973.0" r="6.7"/><circle cx="1751.0" cy="976.6" r="6.7"/><circle cx="1570.0" cy="975.2" r="6.7"/><circle cx="1841.8" cy="991.3" r="6.7"/><circle cx="1583.3" cy="993.3" r="6.7"/><circle cx="1590.4" cy="1000.4" r="6.7"/><circle cx="1689.0" cy="1011.5" r="6.7"/><circle cx="1636.3" cy="1015.3" r="6.7"/><circle cx="1788.3" cy="1027.8" r="6.7"/><circle cx="2042.2" cy="1036.1" r="6.7"/><circle cx="1649.4" cy="1038.5" r="6.7"/><circle cx="1844.6" cy="1042.3" r="6.7"/><circle cx="1250.7" cy="1070.0" r="6.7"/><circle cx="1318.8" cy="1073.2" r="6.7"/><circle cx="1327.1" cy="1080.8" r="6.7"/><circle cx="1425.7" cy="1063.9" r="6.7"/><circle cx="1499.1" cy="1078.4" r="6.7"/><circle cx="1585.9" cy="1062.9" r="6.7"/><circle cx="1713.8" cy="1065.9" r="6.7"/><circle cx="1793.8" cy="1052.0" r="6.7"/><circle cx="1659.7" cy="1083.7" r="6.7"/><circle cx="1640.4" cy="1091.9" r="6.7"/><circle cx="1618.0" cy="1108.5" r="6.7"/><circle cx="2015.6" cy="1090.7" r="6.7"/><circle cx="1977.3" cy="1195.8" r="6.7"/><circle cx="1956.5" cy="1233.7" r="6.7"/><circle cx="1965.4" cy="1263.7" r="6.7"/><circle cx="952.3" cy="1467.5" r="6.7"/><circle cx="1052.7" cy="1474.4" r="6.7"/><circle cx="1214.0" cy="1580.0" r="6.7"/><circle cx="1252.1" cy="1587.3" r="6.7"/><circle cx="1291.0" cy="1588.9" r="6.7"/><circle cx="1416.4" cy="1614.3" r="6.7"/><circle cx="1813.5" cy="1491.1" r="6.7"/><circle cx="1570.0" cy="1604.0" r="6.7"/></g>
<g fill="#21918c"><circle cx="931.4" cy="509.3" r="6.7"/><circle cx="991.2" cy="545.4" r="6.7"/><circle cx="1032.2" cy="586.9" r="6.7"/><circle cx="1051.9" cy="601.0" r="6.7"/><circle cx="907.6" cy="610.3" r="6.7"/><circle cx="906.8" cy="625.8" r="6.7"/><circle cx="852.3" cy="632.3" r="6.7"/><circle cx="985.2" cy="635.3" r="6.7"/><circle cx="1081.8" cy="634.7" r="6.7"/><circle cx="1081.8" cy="649.0" r="6.7"/><circle cx="969.3" cy="663.3" r="6.7"/><circle cx="1035.8" cy="674.2" r="6.7"/><circle cx="963.8" cy="688.1" r="6.7"/><circle cx="1036.6" cy="692.9" r="6.7"/><circle cx="1067.7" cy="691.9" r="6.7"/><circle cx="1070.9" cy="743.3" r="6.7"/><circle cx="1103.7" cy="509.5" r="6.7"/><circle cx="1098.4" cy="520.2" r="6.7"/><circle cx="1150.7" cy="565.8" r="6.7"/><circle cx="1132.1" cy="577.0" r="6.7"/><circle cx="1148.0" cy="615.9" r="6.7"/><circle cx="1225.4" cy="624.8" r="6.7"/><circle cx="1230.9" cy="627.3" r="6.7"/><circle cx="1273.5" cy="633.9" r="6.7"/><circle cx="1114.3" cy="649.1" r="6.7"/><circle cx="1193.5" cy="654.9" r="6.7"/><circle cx="1307.5" cy="666.5" r="6.7"/><circle cx="1206.6" cy="671.9" r="6.7"/><circle cx="1245.0" cy="674.4" r="6.7"/><circle cx="1152.2" cy="681.8" r="6.7"/><circle cx="1115.0" cy="685.3" r="6.7"/><circle cx="1265.4" cy="684.3" r="6.7"/><circle cx="1310.4" cy="685.3" r="6.7"/><circle cx="1190.9" cy="695.4" r="6.7"/><circle cx="1215.2" cy="692.3" r="6.7"/><circle cx="1244.1" cy="705.0" r="6.7"/><circle cx="1257.5" cy="709.9" r="6.7"/><circle cx="1311.4" cy="709.8" r="6.7"/><circle cx="1235.3" cy="731.4" r="6.7"/><circle cx="1230.4" cy="740.4" r="6.7"/><circle cx="1415.5" cy="691.3" r="6.7"/><circle cx="1343.1" cy="721.8" r="6.7"/><circle cx="1437.4" cy="732.4" r="6.7"/><circle cx="1051.9" cy="764.3" r="6.7"/><circle cx="635.8" cy="832.3" r="6.7"/><circle cx="704.0" cy="909.9" r="6.7"/><circle cx="1143.2" cy="751.6" r="6.7"/><circle cx="1230.5" cy="752.4" r="6.7"/><circle cx="1272.5" cy="753.6" r="6.7"/><circle cx="1387.0" cy="770.4" r="6.7"/><circle cx="1158.8" cy="786.7" r="6.7"/><circle cx="1090.0" cy="872.6" r="6.7"/><circle cx="1155.5" cy="871.4" r="6.7"/><circle cx="1255.1" cy="1034.7" r="6.7"/><circle cx="1837.5" cy="836.1" r="6.7"/><circle cx="1599.8" cy="851.2" r="6.7"/><circle cx="1541.0" cy="1224.6" r="6.7"/><circle cx="1227.5" cy="1232.9" r="6.7"/><circle cx="1149.9" cy="1552.2" r="6.7"/></g>
</svg>
<div class="tb" style="left:1750px"><svg width="60" height="60" viewBox="0 0 60 60" fill="none" stroke="#0a0a0a" stroke-width="3" stroke-linecap="round"><path d="M20.800 30h18.400M30 20.800v18.400"/></svg></div>
<div class="tb" style="left:1822px"><svg width="60" height="60" viewBox="0 0 60 60" fill="none" stroke="#0a0a0a" stroke-width="3" stroke-linecap="round"><path d="M20.800 30h18.400"/></svg></div>
<div class="tb" style="left:1894px"><svg width="60" height="60" viewBox="0 0 60 60" fill="none" stroke="#0a0a0a" stroke-width="3" stroke-linecap="round" stroke-linejoin="round"><path d="M18 24.5v-4a2.5 2.5 0 0 1 2.500-2.500h4M35.500 18h4a2.500 2.500 0 0 1 2.500 2.500v4M42 35.500v4a2.500 2.500 0 0 1-2.500 2.500h-4M24.500 42h-4a2.500 2.500 0 0 1-2.500-2.500v-4"/></svg></div>
<div class="tb" style="left:1966px"><svg width="60" height="60" viewBox="0 0 60 60" fill="none" stroke="#0a0a0a" stroke-width="3" stroke-linecap="round" stroke-linejoin="round"><g transform="translate(14.400,14.400) scale(1.300)" stroke-width="2.300"><path d="M3 12a9 9 0 1 0 9-9 9.75 9.75 0 0 0-6.740 2.740L3 8"/><path d="M3 3v5h5"/></g></svg></div>
<div class="tb" style="left:2038px"><svg width="60" height="60" viewBox="0 0 60 60" fill="none" stroke="#0a0a0a" stroke-width="3" stroke-linecap="round" stroke-linejoin="round"><g transform="translate(14.400,14.400) scale(1.300)" stroke-width="2.300"><path d="M21 12a9 9 0 1 1-9-9c2.520 0 4.930 1 6.740 2.740L21 8"/><path d="M21 3v5h-5"/></g></svg></div>
<div class="tb" style="left:2110px;color:#64748b;font-size:30px;line-height:61px;text-align:center">?</div>

<div id="rp"></div>
<!-- LEFT SIDEBAR -->
<div id="left">
  <div class="lhead"></div>
  <div class="search"></div>
  <svg class="abs" style="left:47px;top:29px" width="26" height="26" viewBox="0 0 26 26" fill="none" stroke="#7b849b" stroke-width="2.2" stroke-linecap="round"><circle cx="12" cy="12" r="8.2"/><path d="M18 18l4.6 4.6"/></svg>
  <div class="abs t" style="left:83px;top:28px;font-size:24px;color:#c3c8d2;line-height:28px">Search label or ID...</div>
  <svg class="abs" style="left:433px;top:25px" width="35" height="35" viewBox="0 0 24 24" fill="none" stroke="#8190aa" stroke-width="1.8" stroke-linecap="round" stroke-linejoin="round"><rect x="3" y="3" width="18" height="18" rx="2"/><path d="M9 3v18"/><path d="m16 15-3-3 3-3"/></svg>

  <div class="tri" style="left:30px;top:127px"></div>
  <div class="abs h" style="left:63px;top:123px;letter-spacing:.55px">SIMULATION</div>
  <div class="q" style="left:226px;top:124px">?</div>

  <div class="btn" style="left:32px;top:174px;width:128px;height:56px;background:#e9fbf3;border-color:#6bd3ab;color:#047857">Run</div>
  <div class="btn" style="left:176px;top:174px;width:126px;height:56px;background:#fef4f4;border-color:#f7c4c6;color:#d9828b">Stop</div>
  <div class="btn" style="left:318px;top:174px;width:128px;height:56px;background:#f8fafc;border-color:#cbd5e1;color:#334155">Restart</div>

  <div class="abs l" style="left:32px;top:255px;letter-spacing:.3px">Repulsion</div><div class="q" style="left:150px;top:256px">?</div><div class="abs v" style="top:258px">1.00</div>
  <div class="sl" style="top:302px"><i style="width:144.5px"></i><b style="left:129.5px"></b></div>
  <div class="abs l" style="left:32px;top:335px;letter-spacing:1px">Friction</div><div class="q" style="left:128px;top:336px">?</div><div class="abs v" style="top:338px">0.15</div>
  <div class="sl" style="top:382px"><i style="width:74.5px"></i><b style="left:59.5px"></b></div>
  <div class="abs l" style="left:32px;top:415px;letter-spacing:.45px">Link Spring</div><div class="q" style="left:166px;top:416px">?</div><div class="abs v" style="top:418px">1.00</div>
  <div class="sl" style="top:462px"><i style="width:144.5px"></i><b style="left:129.5px"></b></div>
  <div class="abs l" style="left:32px;top:495px;letter-spacing:0">Edges to keep (%)</div><div class="q" style="left:236px;top:496px">?</div><div class="abs v" style="top:498px">100%</div>
  <div class="sl" style="top:542px"><i style="width:401.5px"></i><b style="left:384.5px"></b></div>

  <div class="cb" style="top:594px"></div>
  <div class="abs l" style="left:81px;top:578px;letter-spacing:.7px;line-height:32px">Always keep strongest edge<br>per node</div>
  <div class="q" style="left:424px;top:596px;width:22px">?</div>

  <div class="abs h" style="left:32px;top:676px;letter-spacing:.85px">DISPLAY</div>
  <div class="abs l" style="left:32px;top:731px;letter-spacing:.55px">Node size</div><div class="abs v" style="top:734px">7</div>
  <div class="sl" style="top:778px"><i style="width:74.5px"></i><b style="left:59.5px"></b></div>
  <div class="abs l" style="left:32px;top:815px;letter-spacing:.3px">Edge size</div><div class="abs v" style="top:818px">0.5</div>
  <div class="sl" style="top:862px"><i style="width:54.5px"></i><b style="left:39.5px"></b></div>

  <div class="cb on" style="top:898px"><svg width="32" height="32" viewBox="0 0 32 32" fill="none" stroke="#fff" stroke-width="2.6" stroke-linecap="round" stroke-linejoin="round"><path d="M8 16.5l5.2 5.2L24 10.5"/></svg></div>
  <div class="abs l" style="left:81px;top:899px;letter-spacing:.6px">Show edges</div>
  <div class="cb" style="top:954px"></div>
  <div class="abs l" style="left:81px;top:955px;letter-spacing:.9px">Show edge directionality</div><div class="q" style="left:380px;top:956px">?</div>
  <div class="cb" style="top:1010px"></div>
  <div class="abs l" style="left:81px;top:1011px;letter-spacing:.55px">Show node labels</div><div class="q" style="left:294px;top:1012px">?</div>
  <div class="cb" style="top:1066px"></div>
  <div class="abs l" style="left:81px;top:1067px;letter-spacing:.65px">Highlight neighbors on hover</div>

  <div class="abs h" style="left:32px;top:1131px;letter-spacing:.4px">GRAPH INFO</div>
  <div class="abs l" style="left:32px;top:1179px;letter-spacing:.55px">Nodes</div><div class="abs v" style="top:1180px;font-size:23px;line-height:28px">1,000</div>
  <div class="abs l" style="left:32px;top:1219px">Edges</div><div class="abs v" style="top:1220px;font-size:23px;line-height:28px">1,488</div>
  <div class="abs t" style="left:32px;top:1277px;font-size:19.7px;line-height:24px;color:#94a3b8">OUTGOING EDGES PER NODE</div>

  <div class="bar" style="left:32px;top:1382px;height:130px"></div>
  <div class="bar" style="left:69.8px;top:1320px;height:192px"></div>
  <div class="bar" style="left:145.4px;top:1378px;height:134px"></div>
  <div class="bar" style="left:183.2px;top:1436px;height:76px"></div>
  <div class="bar" style="left:258.8px;top:1482px;height:30px"></div>
  <div class="bar" style="left:296.6px;top:1506px;height:6px;border-radius:5px 5px 0 0"></div>
  <div class="bar" style="left:410px;top:1508px;height:4px;border-radius:4px 4px 0 0"></div>

  <div class="btn" style="left:32px;top:1528px;width:204px;height:60px;background:#fef3c7;border-color:#fcd978;color:#e39a17;padding-left:42px">Analysis</div>
  <svg class="abs" style="left:64px;top:1544px" width="30" height="30" viewBox="0 0 24 24" fill="none" stroke="#e39a17" stroke-width="1.9" stroke-linecap="round" stroke-linejoin="round"><circle cx="13.5" cy="6.5" r=".5" fill="#e39a17"/><circle cx="17.5" cy="10.5" r=".5" fill="#e39a17"/><circle cx="8.5" cy="7.5" r=".5" fill="#e39a17"/><circle cx="6.5" cy="12.5" r=".5" fill="#e39a17"/><path d="M12 2C6.5 2 2 6.5 2 12s4.5 10 10 10c.926 0 1.648-.746 1.648-1.688 0-.437-.18-.835-.437-1.125-.29-.289-.438-.652-.438-1.125a1.64 1.64 0 0 1 1.668-1.668h1.996c3.051 0 5.555-2.503 5.555-5.554C21.965 6.012 17.461 2 12 2z"/></svg>
  <div class="btn" style="left:244px;top:1528px;width:202px;height:60px;background:#f8fafc;border-color:#cbd5e1;color:#334155;padding-left:42px">Filters</div>
  <svg class="abs" style="left:287px;top:1544px" width="30" height="30" viewBox="0 0 24 24" fill="none" stroke="#334155" stroke-width="1.9" stroke-linecap="round" stroke-linejoin="round"><path d="M21 4h-7M10 4H3M21 12h-9M8 12H3M21 20h-5M12 20H3M14 2v4M8 10v4M16 18v4"/></svg>
  <div class="btn" style="left:32px;top:1604px;width:414px;height:56px;background:#f8fafc;border-color:#cbd5e1;color:#1e293b;padding-left:24px">Download graph</div>
  <svg class="abs" style="left:133px;top:1621px" width="22" height="22" viewBox="0 0 22 22" fill="none" stroke="#1e293b" stroke-width="2.2" stroke-linecap="round" stroke-linejoin="round"><path d="M11 3v15M4.5 11.5L11 18l6.5-6.5"/></svg>
  <div class="btn" style="left:32px;top:1676px;width:414px;height:60px;background:#f8fafc;border-color:#cbd5e1;color:#1e293b">Reset graph</div>
  <svg class="abs" style="left:20px;top:1740px" width="80" height="60" viewBox="0 0 80 60">
<defs><linearGradient id="lg1" gradientUnits="userSpaceOnUse" x1="14" y1="56" x2="64" y2="14"><stop offset="0" stop-color="#7b86e4"/><stop offset=".5" stop-color="#6fb2e6"/><stop offset="1" stop-color="#86e4cf"/></linearGradient></defs>
<g stroke="url(#lg1)" fill="none" stroke-linecap="round" stroke-linejoin="round" opacity=".92">
<path d="M27.300 19.400L48.300 16.500M17 36.800L27.300 19.400M17 36.800L27.300 51.700M17 36.800L49.600 53M48.300 16.500L52.500 29L61.200 26.400M62.400 43L49.600 53M61.200 26.400L62.400 43M27.300 51.700L39.300 58L49.600 53M27.300 19.400L35 24.500" stroke-width="1.500"/>
<path d="M27.300 19.400V51.700M48.300 16.500L29.500 36.500L49.600 53" stroke-width="4.200"/>
<path d="M44 30L49.600 53L61.200 26.400" stroke-width="3.600"/>
</g>
<g fill="url(#lg1)" opacity=".95"><circle cx="27.300" cy="19.400" r="4.700"/><circle cx="48.300" cy="16.500" r="4.800"/><circle cx="61.200" cy="26.400" r="4.800"/><circle cx="17" cy="36.800" r="4.800"/><circle cx="27.300" cy="51.700" r="4.600"/><circle cx="49.600" cy="53" r="4.600"/><circle cx="62.400" cy="43" r="2.800"/><circle cx="39.300" cy="58" r="3.600"/></g>
</svg>
<div class="abs t" style="left:90px;top:1762px;font-size:26px;line-height:30px;font-weight:700;letter-spacing:1.5px;color:#8b9198">Knot<span style="color:#8fbbe6">viz</span></div>

</div>

<!-- RIGHT PANEL -->
<div id="right">
  <div class="tri" style="left:2222px;top:33px"></div>
  <div class="abs h" style="left:2255px;top:29px;letter-spacing:.15px">ANALYSIS</div>
  <div class="q" style="left:2384px;top:30px">?</div>
  <svg class="abs" style="left:2738.500px;top:28.500px" width="30" height="30" viewBox="0 0 24 24" fill="none" stroke="#8190aa" stroke-width="1.8" stroke-linecap="round" stroke-linejoin="round"><rect x="3" y="3" width="18" height="18" rx="2"/><path d="M15 3v18"/><path d="m8 9 3 3-3 3"/></svg>

  <div class="abs h" style="left:2224px;top:81px;font-size:23.5px">PROPERTY</div>
  <div class="sel" style="top:124px"></div>
  <div class="abs t" style="left:2246px;top:139px;font-size:28px;line-height:34px;color:#0a0a0a;letter-spacing:.5px">community</div>
  <svg class="abs" style="left:2680px;top:144px" width="24" height="24" viewBox="0 0 24 24" fill="none" stroke="#7b849b" stroke-width="2" stroke-linecap="round"><path d="M3.5 3.5l17 17M20.5 3.5l-17 17"/></svg>
  <svg class="abs" style="left:2727px;top:144px" width="24" height="24" viewBox="0 0 24 24" fill="none" stroke="#52525b" stroke-width="2.2" stroke-linecap="round" stroke-linejoin="round"><path d="M3.5 8l8.5 8.5L20.5 8"/></svg>

  <div class="abs h" style="left:2224px;top:221px;font-size:23.5px;letter-spacing:.6px">MODE</div>
  <div class="abs seg" style="left:2224px;top:264px;width:272px;background:#f1f5f9;color:#64748b">Size</div>
  <div class="abs seg" style="left:2504px;top:264px;width:270px;background:#334155;color:#fff">Color</div>

  <div class="abs h" style="left:2224px;top:345px;font-size:23.5px;letter-spacing:.3px">PALETTE</div>
  <div class="sel" style="top:388px"></div>
  <div class="abs" style="left:2246px;top:408px;width:48px;height:24px;border-radius:12px;background:linear-gradient(90deg,#440154 0%,#3b528b 25%,#21918c 50%,#5ec962 75%,#fde725 100%)"></div>
  <div class="abs t" style="left:2310px;top:403px;font-size:28px;line-height:34px;color:#0a0a0a">Viridis</div>
  <svg class="abs" style="left:2727px;top:408px" width="24" height="24" viewBox="0 0 24 24" fill="none" stroke="#52525b" stroke-width="2.2" stroke-linecap="round" stroke-linejoin="round"><path d="M3.5 8l8.5 8.5L20.5 8"/></svg>

  <svg class="abs" style="left:2223px;top:465px" width="29" height="29" viewBox="0 0 24 24" fill="none" stroke="#64748b" stroke-width="1.9" stroke-linecap="round" stroke-linejoin="round"><path d="M3 12a9 9 0 0 1 9-9 9.75 9.75 0 0 1 6.74 2.74L21 8"/><path d="M21 3v5h-5"/><path d="M21 12a9 9 0 0 1-9 9 9.75 9.75 0 0 1-6.74-2.74L3 16"/><path d="M8 16H3v5"/></svg>
  <div class="abs t" style="left:2264px;top:465px;font-size:24px;line-height:30px;color:#7c8aa0;letter-spacing:.5px">Reverse colors</div>

  <div class="abs h" style="left:2224px;top:529px;font-size:23.5px;letter-spacing:0">LEGEND</div>
  <div class="dot" style="left:2224px;top:575px;background:#440154"></div><div class="abs lg" style="left:2260px;top:575px;letter-spacing:.9px">Arts</div>
  <div class="dot" style="left:2324px;top:575px;background:#3b528b"></div><div class="abs lg" style="left:2360px;top:575px">Finance</div>
  <div class="dot" style="left:2458px;top:575px;background:#21918c"></div><div class="abs lg" style="left:2494px;top:575px">Science</div>
  <div class="dot" style="left:2590px;top:575px;background:#5ec962"></div><div class="abs lg" style="left:2626px;top:575px;letter-spacing:.6px">Sports</div>
  <div class="dot" style="left:2224px;top:618px;background:#fde725"></div><div class="abs lg" style="left:2260px;top:618px">Tech</div>
  <div class="abs" style="left:2224px;top:668px;width:550px;height:2px;background:#e5e9f0"></div>

  <div class="tri" style="left:2222px;top:703px"></div>
  <div class="abs h" style="left:2255px;top:699px;letter-spacing:.45px">STATISTICS</div>
  <div class="abs t" style="left:2224px;top:756px;width:168px;height:40px;border-radius:20px;background:#f1f5f9;color:#334155;font-size:24px;line-height:39px;text-align:center;letter-spacing:1.3px">community</div>

  <div class="abs l" style="left:2224px;top:813px;letter-spacing:.6px">Total nodes</div><div class="abs rv" style="top:813px">1,000</div>
  <div class="abs l" style="left:2224px;top:849px;letter-spacing:.6px">Distinct</div><div class="abs rv" style="top:849px">5</div>
  <div class="abs" style="left:2224px;top:889px;width:550px;height:2px;background:#f1f5f9"></div>
  <div class="abs l" style="left:2224px;top:899px;letter-spacing:.6px">Sports</div><div class="abs rc" style="top:899px">246</div><div class="abs rp" style="top:899px">(24.6%)</div>
  <div class="abs l" style="left:2224px;top:935px;letter-spacing:.6px">Finance</div><div class="abs rc" style="top:935px">239</div><div class="abs rp" style="top:935px">(23.9%)</div>
  <div class="abs l" style="left:2224px;top:971px;letter-spacing:.6px">Tech</div><div class="abs rc" style="top:971px">235</div><div class="abs rp" style="top:971px">(23.5%)</div>
  <div class="abs l" style="left:2224px;top:1007px;letter-spacing:.6px">Arts</div><div class="abs rc" style="top:1007px">221</div><div class="abs rp" style="top:1007px">(22.1%)</div>
  <div class="abs l" style="left:2224px;top:1043px;letter-spacing:.6px">Science</div><div class="abs rc" style="top:1043px;right:192px">59</div><div class="abs rp" style="top:1043px">(5.9%)</div>
</div>
<!-- ICON STRIP -->
<div id="strip">
  <div class="abs" style="left:8px;top:16px;width:64px;height:64px;border-radius:8px;background:#fef3c7"></div>
  <svg class="abs" style="left:23px;top:31px" width="34" height="34" viewBox="0 0 24 24" fill="none" stroke="#e39a17" stroke-width="1.8" stroke-linecap="round" stroke-linejoin="round"><circle cx="13.5" cy="6.5" r=".5" fill="#e39a17"/><circle cx="17.5" cy="10.5" r=".5" fill="#e39a17"/><circle cx="8.5" cy="7.5" r=".5" fill="#e39a17"/><circle cx="6.5" cy="12.5" r=".5" fill="#e39a17"/><path d="M12 2C6.5 2 2 6.5 2 12s4.5 10 10 10c.926 0 1.648-.746 1.648-1.688 0-.437-.18-.835-.437-1.125-.29-.289-.438-.652-.438-1.125a1.64 1.64 0 0 1 1.668-1.668h1.996c3.051 0 5.555-2.503 5.555-5.554C21.965 6.012 17.461 2 12 2z"/></svg>
  <svg class="abs" style="left:23.500px;top:103.500px" width="33" height="33" viewBox="0 0 24 24" fill="none" stroke="#3b82f6" stroke-width="1.8" stroke-linecap="round" stroke-linejoin="round"><path d="M21 4h-7M10 4H3M21 12h-9M8 12H3M21 20h-5M12 20H3M14 2v4M8 10v4M16 18v4"/></svg>
</div>

</body></html>
